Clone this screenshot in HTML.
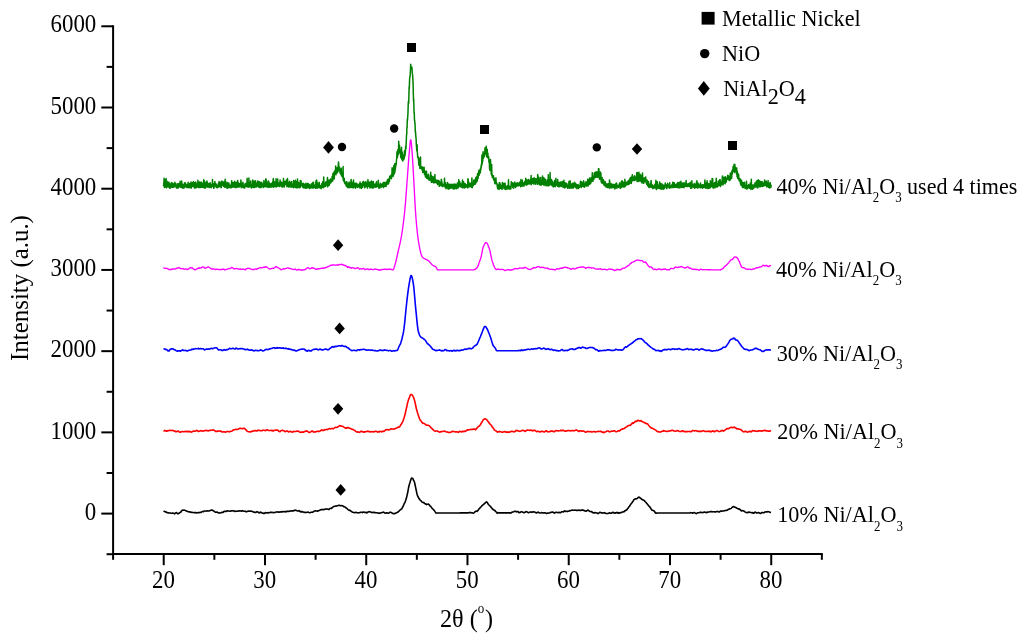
<!DOCTYPE html>
<html><head><meta charset="utf-8"><style>
html,body{margin:0;padding:0;background:#fff;width:1024px;height:638px;overflow:hidden;}
svg{display:block;will-change:transform;}
text{fill:#000;font-family:"Liberation Serif",serif;}
</style></head><body><svg width="1024" height="638" viewBox="0 0 1024 638"><line x1="113.1" y1="25.3" x2="113.1" y2="555.1" stroke="#000" stroke-width="2"/><line x1="112.1" y1="554.1" x2="822.8" y2="554.1" stroke="#000" stroke-width="2"/><line x1="106.6" y1="554.21" x2="113.1" y2="554.21" stroke="#000" stroke-width="2"/><line x1="101.3" y1="513.60" x2="113.1" y2="513.60" stroke="#000" stroke-width="2"/><line x1="106.6" y1="472.99" x2="113.1" y2="472.99" stroke="#000" stroke-width="2"/><line x1="101.3" y1="432.38" x2="113.1" y2="432.38" stroke="#000" stroke-width="2"/><line x1="106.6" y1="391.77" x2="113.1" y2="391.77" stroke="#000" stroke-width="2"/><line x1="101.3" y1="351.16" x2="113.1" y2="351.16" stroke="#000" stroke-width="2"/><line x1="106.6" y1="310.55" x2="113.1" y2="310.55" stroke="#000" stroke-width="2"/><line x1="101.3" y1="269.94" x2="113.1" y2="269.94" stroke="#000" stroke-width="2"/><line x1="106.6" y1="229.33" x2="113.1" y2="229.33" stroke="#000" stroke-width="2"/><line x1="101.3" y1="188.72" x2="113.1" y2="188.72" stroke="#000" stroke-width="2"/><line x1="106.6" y1="148.11" x2="113.1" y2="148.11" stroke="#000" stroke-width="2"/><line x1="101.3" y1="107.50" x2="113.1" y2="107.50" stroke="#000" stroke-width="2"/><line x1="106.6" y1="66.89" x2="113.1" y2="66.89" stroke="#000" stroke-width="2"/><line x1="101.3" y1="26.28" x2="113.1" y2="26.28" stroke="#000" stroke-width="2"/><line x1="113.10" y1="554.1" x2="113.10" y2="559.8" stroke="#000" stroke-width="2"/><line x1="163.72" y1="554.1" x2="163.72" y2="565.2" stroke="#000" stroke-width="2"/><line x1="214.35" y1="554.1" x2="214.35" y2="559.8" stroke="#000" stroke-width="2"/><line x1="264.98" y1="554.1" x2="264.98" y2="565.2" stroke="#000" stroke-width="2"/><line x1="315.60" y1="554.1" x2="315.60" y2="559.8" stroke="#000" stroke-width="2"/><line x1="366.23" y1="554.1" x2="366.23" y2="565.2" stroke="#000" stroke-width="2"/><line x1="416.85" y1="554.1" x2="416.85" y2="559.8" stroke="#000" stroke-width="2"/><line x1="467.48" y1="554.1" x2="467.48" y2="565.2" stroke="#000" stroke-width="2"/><line x1="518.10" y1="554.1" x2="518.10" y2="559.8" stroke="#000" stroke-width="2"/><line x1="568.73" y1="554.1" x2="568.73" y2="565.2" stroke="#000" stroke-width="2"/><line x1="619.35" y1="554.1" x2="619.35" y2="559.8" stroke="#000" stroke-width="2"/><line x1="669.98" y1="554.1" x2="669.98" y2="565.2" stroke="#000" stroke-width="2"/><line x1="720.60" y1="554.1" x2="720.60" y2="559.8" stroke="#000" stroke-width="2"/><line x1="771.23" y1="554.1" x2="771.23" y2="565.2" stroke="#000" stroke-width="2"/><line x1="821.85" y1="554.1" x2="821.85" y2="559.8" stroke="#000" stroke-width="2"/><polyline fill="none" stroke="#000" stroke-width="1.6" stroke-linejoin="round" points="163.50,511.13 164.00,511.40 164.50,511.37 165.00,511.71 165.50,511.86 166.00,511.91 166.50,512.43 167.00,512.50 167.50,512.63 168.00,512.87 168.50,512.99 169.00,512.91 169.50,512.93 170.00,512.93 170.50,513.02 171.00,513.22 171.50,513.26 172.00,513.25 172.50,513.15 173.00,513.17 173.50,513.20 174.00,513.59 174.50,513.83 175.00,513.36 175.50,513.09 176.00,512.84 176.50,512.59 177.00,513.10 177.50,513.47 178.00,513.82 178.50,513.52 179.00,513.13 179.50,513.09 180.00,512.42 180.50,512.31 181.00,511.88 181.50,510.87 182.00,510.50 182.50,510.22 183.00,510.05 183.50,510.23 184.00,510.23 184.50,510.10 185.00,510.37 185.50,510.60 186.00,510.72 186.50,510.91 187.00,511.16 187.50,511.43 188.00,511.62 188.50,511.71 189.00,511.88 189.50,511.78 190.00,512.03 190.50,512.12 191.00,512.29 191.50,512.50 192.00,512.25 192.50,512.49 193.00,512.43 193.50,512.56 194.00,512.67 194.50,512.57 195.00,512.62 195.50,512.49 196.00,512.68 196.50,512.98 197.00,512.62 197.50,512.69 198.00,512.80 198.50,512.55 199.00,512.62 199.50,512.62 200.00,512.35 200.50,512.46 201.00,512.44 201.50,511.94 202.00,511.77 202.50,511.42 203.00,511.50 203.50,511.68 204.00,511.30 204.50,511.06 205.00,510.97 205.50,510.95 206.00,511.02 206.50,511.13 207.00,510.97 207.50,510.85 208.00,511.04 208.50,511.02 209.00,510.87 209.50,510.70 210.00,510.70 210.50,510.24 211.00,510.22 211.50,510.29 212.00,509.92 212.50,510.48 213.00,510.52 213.50,510.82 214.00,511.22 214.50,511.47 215.00,512.00 215.50,512.12 216.00,512.19 216.50,512.00 217.00,512.28 217.50,512.36 218.00,512.54 218.50,512.95 219.00,512.70 219.50,512.91 220.00,513.04 220.50,512.98 221.00,512.80 221.50,512.61 222.00,512.28 222.50,512.23 223.00,512.44 223.50,511.91 224.00,511.48 224.50,511.31 225.00,511.33 225.50,511.30 226.00,511.42 226.50,511.36 227.00,510.76 227.50,510.85 228.00,511.01 228.50,511.00 229.00,511.07 229.50,511.21 230.00,511.24 230.50,511.00 231.00,511.01 231.50,510.80 232.00,510.83 232.50,510.78 233.00,510.65 233.50,511.07 234.00,511.06 234.50,511.24 235.00,511.53 235.50,511.20 236.00,511.17 236.50,511.25 237.00,511.21 237.50,511.08 238.00,511.27 238.50,511.09 239.00,510.85 239.50,510.90 240.00,510.69 240.50,511.07 241.00,511.05 241.50,511.24 242.00,510.93 242.50,510.65 243.00,511.01 243.50,510.94 244.00,511.21 244.50,511.25 245.00,511.21 245.50,511.37 246.00,511.82 246.50,511.82 247.00,511.59 247.50,511.46 248.00,511.10 248.50,511.09 249.00,511.20 249.50,511.28 250.00,511.03 250.50,511.20 251.00,511.15 251.50,510.97 252.00,511.43 252.50,511.58 253.00,511.84 253.50,512.15 254.00,511.95 254.50,512.30 255.00,512.44 255.50,512.30 256.00,512.40 256.50,512.00 257.00,511.65 257.50,511.96 258.00,512.09 258.50,512.36 259.00,512.87 259.50,512.43 260.00,512.58 260.50,512.14 261.00,512.21 261.50,512.76 262.00,512.88 262.50,513.01 263.00,513.15 263.50,513.48 264.00,513.20 264.50,513.45 265.00,513.01 265.50,512.64 266.00,512.60 266.50,512.85 267.00,512.79 267.50,512.73 268.00,513.03 268.50,512.57 269.00,512.68 269.50,512.62 270.00,512.49 270.50,512.38 271.00,512.32 271.50,512.36 272.00,512.30 272.50,512.49 273.00,512.49 273.50,512.63 274.00,512.60 274.50,512.54 275.00,512.45 275.50,512.19 276.00,512.00 276.50,512.08 277.00,511.97 277.50,511.90 278.00,512.15 278.50,512.10 279.00,512.20 279.50,511.94 280.00,511.92 280.50,511.86 281.00,511.65 281.50,512.10 282.00,511.88 282.50,511.60 283.00,511.83 283.50,511.63 284.00,511.75 284.50,511.62 285.00,511.86 285.50,511.73 286.00,511.37 286.50,511.70 287.00,511.26 287.50,511.35 288.00,511.50 288.50,511.31 289.00,511.35 289.50,511.10 290.00,511.21 290.50,511.08 291.00,510.83 291.50,510.92 292.00,510.83 292.50,510.83 293.00,510.79 293.50,510.85 294.00,510.44 294.50,510.28 295.00,510.43 295.50,510.08 296.00,510.41 296.50,510.61 297.00,510.81 297.50,510.94 298.00,510.90 298.50,511.04 299.00,510.54 299.50,511.34 300.00,511.43 300.50,511.35 301.00,512.03 301.50,511.59 302.00,511.51 302.50,511.86 303.00,511.96 303.50,511.99 304.00,512.35 304.50,512.41 305.00,512.18 305.50,512.40 306.00,512.55 306.50,512.39 307.00,512.33 307.50,512.23 308.00,512.04 308.50,512.31 309.00,512.54 309.50,512.66 310.00,512.77 310.50,512.55 311.00,512.30 311.50,512.17 312.00,512.34 312.50,512.12 313.00,512.03 313.50,511.75 314.00,511.22 314.50,511.02 315.00,511.01 315.50,510.86 316.00,511.07 316.50,511.07 317.00,510.99 317.50,511.10 318.00,510.71 318.50,510.87 319.00,510.63 319.50,510.25 320.00,510.17 320.50,509.83 321.00,509.63 321.50,509.71 322.00,509.42 322.50,509.63 323.00,509.80 323.50,509.63 324.00,509.71 324.50,509.33 325.00,509.24 325.50,509.11 326.00,509.03 326.50,508.99 327.00,508.86 327.50,509.12 328.00,509.38 328.50,509.32 329.00,509.38 329.50,508.84 330.00,508.57 330.50,508.37 331.00,508.16 331.50,508.44 332.00,507.70 332.50,507.51 333.00,506.99 333.50,506.59 334.00,506.54 334.50,506.20 335.00,506.25 335.50,506.10 336.00,506.22 336.50,506.05 337.00,505.80 337.50,505.73 338.00,505.60 338.50,505.35 339.00,505.51 339.50,505.37 340.00,505.49 340.50,505.72 341.00,505.75 341.50,505.59 342.00,505.67 342.50,505.82 343.00,506.00 343.50,506.58 344.00,506.59 344.50,506.91 345.00,507.05 345.50,507.35 346.00,507.95 346.50,508.13 347.00,508.62 347.50,508.96 348.00,509.63 348.50,509.94 349.00,510.11 349.50,510.56 350.00,510.30 350.50,510.74 351.00,511.25 351.50,511.48 352.00,511.81 352.50,512.25 353.00,512.25 353.50,512.41 354.00,512.59 354.50,512.73 355.00,512.61 355.50,512.36 356.00,512.39 356.50,512.46 357.00,512.75 357.50,512.68 358.00,512.84 358.50,512.80 359.00,512.69 359.50,512.79 360.00,512.64 360.50,512.20 361.00,512.25 361.50,512.32 362.00,512.18 362.50,512.59 363.00,512.29 363.50,512.13 364.00,512.17 364.50,512.36 365.00,512.29 365.50,512.45 366.00,512.67 366.50,512.36 367.00,512.82 367.50,512.52 368.00,511.94 368.50,511.99 369.00,511.56 369.50,511.67 370.00,511.86 370.50,511.92 371.00,512.29 371.50,512.24 372.00,512.63 372.50,512.50 373.00,512.36 373.50,512.53 374.00,512.38 374.50,512.51 375.00,512.64 375.50,512.61 376.00,512.87 376.50,512.69 377.00,512.73 377.50,512.90 378.00,513.01 378.50,513.06 379.00,513.33 379.50,513.30 380.00,513.01 380.50,512.98 381.00,512.77 381.50,512.74 382.00,512.57 382.50,512.47 383.00,512.26 383.50,512.11 384.00,512.47 384.50,512.89 385.00,513.12 385.50,513.27 386.00,512.99 386.50,512.73 387.00,512.72 387.50,513.01 388.00,513.23 388.50,513.16 389.00,513.00 389.50,512.54 390.00,512.24 390.50,512.27 391.00,512.33 391.50,512.78 392.00,512.99 392.50,513.33 393.00,513.68 393.50,513.44 394.00,513.77 394.50,513.70 395.00,513.34 395.50,513.37 396.00,513.03 396.50,512.73 397.00,512.57 397.50,512.29 398.00,512.05 398.50,511.58 399.00,511.22 399.50,510.50 400.00,510.01 400.50,509.79 401.00,509.32 401.50,509.11 402.00,508.49 402.50,507.41 403.00,506.36 403.50,505.31 404.00,504.21 404.50,503.18 405.00,502.41 405.50,500.90 406.00,499.35 406.50,497.83 407.00,495.58 407.50,493.52 408.00,490.79 408.50,488.03 409.00,485.77 409.50,483.90 410.00,482.47 410.50,480.72 411.00,479.26 411.50,478.07 412.00,478.06 412.50,478.49 413.00,478.78 413.50,480.35 414.00,481.01 414.50,482.19 415.00,484.46 415.50,486.83 416.00,489.24 416.50,491.64 417.00,494.01 417.50,495.62 418.00,496.77 418.50,497.53 419.00,498.59 419.50,499.07 420.00,499.80 420.50,500.42 421.00,500.73 421.50,501.39 422.00,502.00 422.50,502.15 423.00,502.45 423.50,502.76 424.00,502.60 424.50,503.30 425.00,503.78 425.50,503.81 426.00,504.36 426.50,504.58 427.00,504.15 427.50,504.18 428.00,504.19 428.50,504.12 429.00,504.56 429.50,505.33 430.00,505.95 430.50,506.19 431.00,506.77 431.50,507.40 432.00,507.99 432.50,508.83 433.00,509.22 433.50,509.69 434.00,510.08 434.50,510.87 435.00,511.66 435.50,512.39 436.00,513.15 436.50,513.07 437.00,513.00 437.50,513.00 438.00,513.00 438.50,513.00 439.00,513.00 439.50,513.00 440.00,513.00 440.50,513.00 441.00,513.00 441.50,513.00 442.00,513.00 442.50,513.00 443.00,513.00 443.50,512.99 444.00,512.99 444.50,512.99 445.00,512.99 445.50,512.99 446.00,512.99 446.50,512.99 447.00,512.99 447.50,512.99 448.00,512.98 448.50,512.98 449.00,512.98 449.50,512.98 450.00,512.98 450.50,512.98 451.00,512.97 451.50,512.97 452.00,512.97 452.50,512.97 453.00,512.97 453.50,512.96 454.00,512.96 454.50,512.96 455.00,512.96 455.50,512.95 456.00,512.95 456.50,512.95 457.00,512.94 457.50,512.94 458.00,512.94 458.50,512.94 459.00,512.93 459.50,512.93 460.00,512.92 460.50,512.92 461.00,512.92 461.50,512.91 462.00,512.91 462.50,512.90 463.00,512.90 463.50,512.90 464.00,512.89 464.50,512.89 465.00,512.88 465.50,512.88 466.00,512.87 466.50,512.87 467.00,512.86 467.50,512.86 468.00,512.85 468.50,512.64 469.00,512.88 469.50,512.70 470.00,512.32 470.50,512.69 471.00,512.62 471.50,512.95 472.00,513.01 472.50,512.89 473.00,513.18 473.50,513.13 474.00,512.84 474.50,512.46 475.00,511.77 475.50,511.42 476.00,511.08 476.50,511.30 477.00,511.38 477.50,510.84 478.00,510.42 478.50,509.82 479.00,508.76 479.50,508.33 480.00,508.13 480.50,507.19 481.00,506.89 481.50,506.33 482.00,505.68 482.50,505.27 483.00,504.85 483.50,504.48 484.00,503.89 484.50,503.66 485.00,503.15 485.50,502.59 486.00,502.20 486.50,501.82 487.00,502.11 487.50,502.94 488.00,503.78 488.50,504.54 489.00,505.08 489.50,505.46 490.00,506.00 490.50,506.61 491.00,507.09 491.50,507.62 492.00,508.43 492.50,508.71 493.00,509.47 493.50,509.70 494.00,509.99 494.50,510.59 495.00,510.55 495.50,511.23 496.00,511.79 496.50,512.19 497.00,512.98 497.50,513.13 498.00,512.58 498.50,512.73 499.00,512.85 499.50,512.85 500.00,512.85 500.50,512.85 501.00,512.85 501.50,512.85 502.00,512.85 502.50,512.85 503.00,512.85 503.50,512.85 504.00,512.85 504.50,512.85 505.00,512.85 505.50,512.85 506.00,512.85 506.50,512.85 507.00,512.85 507.50,512.85 508.00,512.85 508.50,512.85 509.00,512.85 509.50,512.85 510.00,512.85 510.50,513.15 511.00,512.92 511.50,512.48 512.00,512.20 512.50,511.96 513.00,511.93 513.50,512.00 514.00,511.60 514.50,511.28 515.00,511.21 515.50,511.30 516.00,511.75 516.50,511.88 517.00,511.51 517.50,511.77 518.00,511.64 518.50,512.06 519.00,512.73 519.50,512.42 520.00,512.52 520.50,512.25 521.00,511.78 521.50,511.78 522.00,511.89 522.50,511.96 523.00,512.34 523.50,512.60 524.00,512.55 524.50,512.65 525.00,512.35 525.50,511.90 526.00,511.88 526.50,511.54 527.00,511.86 527.50,512.19 528.00,512.54 528.50,512.72 529.00,512.62 529.50,512.37 530.00,511.97 530.50,512.07 531.00,512.08 531.50,512.01 532.00,512.33 532.50,511.97 533.00,511.91 533.50,512.02 534.00,511.84 534.50,511.98 535.00,512.20 535.50,512.43 536.00,512.75 536.50,512.99 537.00,512.62 537.50,512.48 538.00,512.10 538.50,512.20 539.00,512.69 539.50,512.86 540.00,513.01 540.50,512.92 541.00,512.80 541.50,512.54 542.00,512.73 542.50,512.87 543.00,512.79 543.50,513.01 544.00,513.04 544.50,512.89 545.00,512.85 545.50,513.07 546.00,513.07 546.50,513.51 547.00,513.47 547.50,513.01 548.00,513.12 548.50,512.98 549.00,513.00 549.50,513.04 550.00,512.84 550.50,512.34 551.00,512.38 551.50,512.23 552.00,512.16 552.50,512.06 553.00,512.05 553.50,512.66 554.00,512.61 554.50,513.08 555.00,512.96 555.50,512.50 556.00,512.24 556.50,512.24 557.00,512.30 557.50,512.69 558.00,512.70 558.50,512.43 559.00,512.41 559.50,512.32 560.00,512.80 560.50,512.68 561.00,512.41 561.50,511.81 562.00,511.68 562.50,511.73 563.00,511.77 563.50,512.01 564.00,511.27 564.50,510.91 565.00,511.11 565.50,511.11 566.00,511.49 566.50,511.53 567.00,511.37 567.50,511.52 568.00,511.18 568.50,511.26 569.00,510.98 569.50,510.63 570.00,510.76 570.50,510.64 571.00,510.47 571.50,510.32 572.00,510.14 572.50,510.07 573.00,510.16 573.50,510.22 574.00,510.19 574.50,510.13 575.00,510.31 575.50,510.15 576.00,510.21 576.50,510.42 577.00,510.29 577.50,510.35 578.00,510.44 578.50,510.09 579.00,510.13 579.50,510.36 580.00,510.44 580.50,510.41 581.00,510.40 581.50,510.03 582.00,509.91 582.50,510.23 583.00,510.00 583.50,510.42 584.00,510.47 584.50,510.62 585.00,510.97 585.50,511.00 586.00,511.25 586.50,510.89 587.00,510.82 587.50,510.24 588.00,510.00 588.50,510.44 589.00,510.67 589.50,511.36 590.00,511.47 590.50,511.52 591.00,511.51 591.50,511.64 592.00,512.12 592.50,512.15 593.00,512.94 593.50,512.86 594.00,512.65 594.50,512.95 595.00,512.55 595.50,512.76 596.00,512.81 596.50,513.05 597.00,512.99 597.50,513.22 598.00,513.61 598.50,513.14 599.00,512.96 599.50,512.53 600.00,512.33 600.50,512.57 601.00,512.80 601.50,512.84 602.00,512.88 602.50,513.12 603.00,512.84 603.50,512.96 604.00,512.93 604.50,512.67 605.00,512.87 605.50,513.22 606.00,513.41 606.50,513.58 607.00,513.49 607.50,513.58 608.00,513.42 608.50,513.17 609.00,513.25 609.50,512.78 610.00,513.09 610.50,513.23 611.00,513.30 611.50,513.01 612.00,512.77 612.50,512.55 613.00,512.35 613.50,512.83 614.00,512.55 614.50,512.89 615.00,513.28 615.50,512.86 616.00,512.99 616.50,512.57 617.00,512.37 617.50,512.84 618.00,512.62 618.50,513.22 619.00,513.17 619.50,512.81 620.00,513.01 620.50,512.77 621.00,512.47 621.50,512.51 622.00,512.10 622.50,511.95 623.00,511.98 623.50,511.66 624.00,511.83 624.50,511.12 625.00,510.70 625.50,510.72 626.00,510.10 626.50,510.11 627.00,509.73 627.50,508.77 628.00,508.22 628.50,507.45 629.00,506.78 629.50,506.19 630.00,505.53 630.50,504.60 631.00,503.94 631.50,503.34 632.00,502.77 632.50,501.89 633.00,501.23 633.50,500.46 634.00,499.49 634.50,499.39 635.00,499.05 635.50,498.81 636.00,498.87 636.50,498.73 637.00,498.50 637.50,498.22 638.00,497.59 638.50,497.24 639.00,497.17 639.50,497.20 640.00,497.85 640.50,498.35 641.00,498.57 641.50,499.30 642.00,499.35 642.50,499.74 643.00,500.03 643.50,499.94 644.00,500.59 644.50,500.75 645.00,501.50 645.50,501.99 646.00,502.50 646.50,503.10 647.00,503.56 647.50,504.36 648.00,504.80 648.50,505.68 649.00,506.09 649.50,506.52 650.00,507.39 650.50,507.95 651.00,508.79 651.50,509.51 652.00,510.23 652.50,510.31 653.00,510.50 653.50,510.68 654.00,510.83 654.50,511.50 655.00,512.25 655.50,513.00 656.00,513.13 656.50,513.13 657.00,513.00 657.50,513.00 658.00,513.00 658.50,513.00 659.00,513.00 659.50,513.00 660.00,513.00 660.50,513.00 661.00,513.00 661.50,513.00 662.00,513.00 662.50,513.00 663.00,513.00 663.50,513.00 664.00,513.00 664.50,513.00 665.00,513.00 665.50,513.00 666.00,513.00 666.50,513.00 667.00,513.00 667.50,513.00 668.00,513.00 668.50,513.00 669.00,513.00 669.50,513.00 670.00,513.00 670.50,513.00 671.00,513.00 671.50,513.00 672.00,513.00 672.50,513.00 673.00,513.00 673.50,513.00 674.00,513.00 674.50,513.00 675.00,513.00 675.50,513.00 676.00,513.00 676.50,513.00 677.00,513.00 677.50,513.00 678.00,513.00 678.50,513.00 679.00,513.00 679.50,513.00 680.00,513.00 680.50,513.00 681.00,513.00 681.50,513.00 682.00,513.00 682.50,513.00 683.00,513.00 683.50,513.00 684.00,513.00 684.50,513.00 685.00,513.00 685.50,513.00 686.00,513.00 686.50,513.00 687.00,513.00 687.50,513.00 688.00,513.00 688.50,513.00 689.00,513.00 689.50,513.00 690.00,513.00 690.50,512.65 691.00,512.70 691.50,512.82 692.00,512.70 692.50,513.14 693.00,512.96 693.50,512.95 694.00,512.62 694.50,512.54 695.00,513.02 695.50,513.16 696.00,513.50 696.50,513.59 697.00,513.22 697.50,512.77 698.00,512.86 698.50,512.68 699.00,512.73 699.50,512.54 700.00,512.33 700.50,512.41 701.00,512.27 701.50,512.40 702.00,512.62 702.50,512.52 703.00,512.58 703.50,512.44 704.00,512.03 704.50,511.93 705.00,512.19 705.50,512.25 706.00,512.65 706.50,512.50 707.00,512.17 707.50,512.40 708.00,512.01 708.50,512.00 709.00,512.01 709.50,511.91 710.00,511.62 710.50,511.69 711.00,511.66 711.50,511.47 712.00,511.87 712.50,511.78 713.00,511.70 713.50,511.74 714.00,511.70 714.50,511.72 715.00,512.01 715.50,511.80 716.00,511.86 716.50,511.70 717.00,511.37 717.50,511.54 718.00,511.63 718.50,511.89 719.00,511.80 719.50,511.91 720.00,511.47 720.50,511.12 721.00,511.21 721.50,510.94 722.00,511.08 722.50,511.06 723.00,510.97 723.50,510.99 724.00,510.80 724.50,510.80 725.00,510.52 725.50,510.48 726.00,510.35 726.50,510.33 727.00,510.28 727.50,510.00 728.00,509.61 728.50,509.30 729.00,509.22 729.50,508.92 730.00,508.93 730.50,508.64 731.00,508.42 731.50,508.07 732.00,507.37 732.50,507.17 733.00,506.73 733.50,506.51 734.00,506.90 734.50,506.93 735.00,507.17 735.50,507.47 736.00,507.61 736.50,507.86 737.00,508.37 737.50,508.58 738.00,508.82 738.50,509.11 739.00,508.80 739.50,509.01 740.00,509.78 740.50,509.80 741.00,510.56 741.50,510.99 742.00,510.68 742.50,510.77 743.00,510.63 743.50,511.02 744.00,511.01 744.50,511.56 745.00,511.86 745.50,512.16 746.00,512.39 746.50,512.58 747.00,512.74 747.50,512.40 748.00,512.25 748.50,512.34 749.00,511.99 749.50,512.01 750.00,512.49 750.50,512.46 751.00,512.59 751.50,512.70 752.00,512.54 752.50,512.58 753.00,513.20 753.50,512.92 754.00,513.16 754.50,512.48 755.00,512.08 755.50,512.24 756.00,512.45 756.50,513.01 757.00,512.90 757.50,513.03 758.00,512.61 758.50,512.63 759.00,512.75 759.50,512.97 760.00,513.36 760.50,513.46 761.00,513.28 761.50,512.89 762.00,512.49 762.50,512.55 763.00,512.68 763.50,512.78 764.00,512.83 764.50,512.27 765.00,511.99 765.50,512.04 766.00,511.82 766.50,511.86 767.00,512.01 767.50,511.75 768.00,511.65 768.50,511.69 769.00,511.84 769.50,512.11 770.00,512.22 770.50,512.49 771.00,512.59"/><polyline fill="none" stroke="#ff0000" stroke-width="1.6" stroke-linejoin="round" points="163.50,431.21 164.00,430.99 164.50,430.43 165.00,430.62 165.50,430.84 166.00,430.79 166.50,431.29 167.00,430.98 167.50,430.64 168.00,430.84 168.50,430.63 169.00,430.50 169.50,430.44 170.00,430.34 170.50,430.37 171.00,430.52 171.50,430.55 172.00,430.49 172.50,430.36 173.00,430.46 173.50,430.70 174.00,430.87 174.50,431.26 175.00,431.10 175.50,431.37 176.00,431.83 176.50,431.60 177.00,431.56 177.50,431.21 178.00,430.99 178.50,431.30 179.00,431.79 179.50,432.17 180.00,432.06 180.50,432.08 181.00,431.85 181.50,431.87 182.00,431.62 182.50,431.49 183.00,431.55 183.50,431.70 184.00,431.75 184.50,431.62 185.00,431.46 185.50,431.30 186.00,431.38 186.50,431.78 187.00,431.53 187.50,431.54 188.00,431.75 188.50,431.25 189.00,431.59 189.50,431.58 190.00,431.40 190.50,431.80 191.00,432.17 191.50,431.99 192.00,431.90 192.50,431.58 193.00,431.25 193.50,431.15 194.00,431.15 194.50,431.25 195.00,431.24 195.50,431.07 196.00,430.81 196.50,430.39 197.00,430.46 197.50,430.64 198.00,431.15 198.50,431.55 199.00,431.18 199.50,431.23 200.00,430.93 200.50,430.68 201.00,430.63 201.50,430.83 202.00,430.88 202.50,431.14 203.00,431.22 203.50,430.77 204.00,430.83 204.50,430.72 205.00,430.61 205.50,430.68 206.00,430.34 206.50,430.37 207.00,430.68 207.50,430.54 208.00,430.93 208.50,430.76 209.00,430.57 209.50,430.56 210.00,430.26 210.50,430.37 211.00,430.26 211.50,430.28 212.00,430.19 212.50,430.04 213.00,429.84 213.50,429.93 214.00,430.14 214.50,430.48 215.00,430.90 215.50,431.43 216.00,431.47 216.50,431.29 217.00,431.57 217.50,431.02 218.00,431.21 218.50,431.20 219.00,431.01 219.50,430.93 220.00,431.00 220.50,431.22 221.00,431.06 221.50,431.78 222.00,431.83 222.50,431.93 223.00,432.04 223.50,431.80 224.00,431.69 224.50,431.85 225.00,432.16 225.50,432.09 226.00,432.04 226.50,431.83 227.00,431.45 227.50,431.43 228.00,431.44 228.50,431.55 229.00,431.89 229.50,431.71 230.00,431.66 230.50,431.29 231.00,431.24 231.50,431.19 232.00,431.00 232.50,430.75 233.00,430.08 233.50,429.99 234.00,429.72 234.50,429.82 235.00,429.57 235.50,429.52 236.00,429.30 236.50,429.41 237.00,429.50 237.50,429.45 238.00,429.25 238.50,428.90 239.00,428.69 239.50,428.31 240.00,428.47 240.50,428.27 241.00,428.40 241.50,428.57 242.00,428.65 242.50,428.68 243.00,428.42 243.50,428.28 244.00,428.34 244.50,428.25 245.00,428.94 245.50,429.39 246.00,429.75 246.50,430.66 247.00,431.01 247.50,431.42 248.00,431.58 248.50,431.70 249.00,431.81 249.50,431.68 250.00,432.03 250.50,432.02 251.00,431.54 251.50,431.61 252.00,431.09 252.50,431.06 253.00,431.41 253.50,431.05 254.00,430.97 254.50,430.66 255.00,430.35 255.50,430.71 256.00,430.92 256.50,430.81 257.00,430.94 257.50,430.31 258.00,430.22 258.50,430.41 259.00,430.27 259.50,430.49 260.00,430.52 260.50,430.70 261.00,430.76 261.50,430.68 262.00,430.83 262.50,430.15 263.00,430.19 263.50,430.28 264.00,430.18 264.50,430.36 265.00,430.50 265.50,430.64 266.00,430.17 266.50,429.97 267.00,429.68 267.50,429.85 268.00,430.17 268.50,430.52 269.00,430.54 269.50,430.43 270.00,430.48 270.50,430.51 271.00,430.38 271.50,430.46 272.00,430.63 272.50,430.35 273.00,430.92 273.50,430.84 274.00,430.52 274.50,430.41 275.00,430.13 275.50,430.12 276.00,430.12 276.50,430.16 277.00,430.28 277.50,430.12 278.00,430.18 278.50,431.04 279.00,431.27 279.50,431.59 280.00,431.66 280.50,431.33 281.00,430.63 281.50,430.54 282.00,430.56 282.50,430.29 283.00,430.48 283.50,430.62 284.00,430.84 284.50,431.16 285.00,431.65 285.50,431.47 286.00,431.30 286.50,431.02 287.00,430.87 287.50,431.20 288.00,431.44 288.50,431.91 289.00,431.80 289.50,431.62 290.00,431.54 290.50,431.23 291.00,431.78 291.50,432.02 292.00,432.02 292.50,432.11 293.00,431.77 293.50,431.37 294.00,431.58 294.50,431.49 295.00,431.43 295.50,431.51 296.00,431.35 296.50,431.34 297.00,431.13 297.50,431.14 298.00,431.10 298.50,431.29 299.00,431.57 299.50,432.01 300.00,432.27 300.50,432.28 301.00,432.39 301.50,432.00 302.00,432.12 302.50,432.26 303.00,431.89 303.50,432.14 304.00,432.03 304.50,431.47 305.00,431.57 305.50,431.36 306.00,430.88 306.50,431.16 307.00,431.12 307.50,431.28 308.00,431.66 308.50,432.29 309.00,432.37 309.50,432.47 310.00,432.41 310.50,431.97 311.00,431.81 311.50,431.25 312.00,431.07 312.50,431.12 313.00,431.57 313.50,431.97 314.00,432.16 314.50,431.84 315.00,431.79 315.50,431.88 316.00,431.66 316.50,431.75 317.00,431.27 317.50,431.24 318.00,431.36 318.50,431.31 319.00,431.50 319.50,431.25 320.00,431.03 320.50,430.75 321.00,430.36 321.50,429.89 322.00,429.94 322.50,430.44 323.00,430.25 323.50,430.47 324.00,430.34 324.50,429.66 325.00,429.88 325.50,429.54 326.00,429.57 326.50,429.52 327.00,429.39 327.50,429.59 328.00,429.20 328.50,428.89 329.00,428.68 329.50,428.61 330.00,428.58 330.50,428.85 331.00,428.68 331.50,428.49 332.00,428.54 332.50,428.42 333.00,428.84 333.50,428.67 334.00,428.25 334.50,427.81 335.00,427.49 335.50,427.29 336.00,427.40 336.50,427.49 337.00,427.30 337.50,427.25 338.00,426.74 338.50,426.46 339.00,426.16 339.50,425.55 340.00,425.74 340.50,425.85 341.00,425.85 341.50,426.22 342.00,426.32 342.50,426.29 343.00,426.53 343.50,426.86 344.00,427.16 344.50,427.50 345.00,427.68 345.50,428.10 346.00,427.96 346.50,428.29 347.00,427.97 347.50,427.45 348.00,427.72 348.50,427.62 349.00,428.11 349.50,428.26 350.00,428.35 350.50,428.46 351.00,428.70 351.50,429.09 352.00,429.35 352.50,429.39 353.00,429.42 353.50,429.69 354.00,430.06 354.50,430.40 355.00,430.61 355.50,431.08 356.00,431.49 356.50,431.88 357.00,432.14 357.50,432.00 358.00,431.90 358.50,431.94 359.00,432.21 359.50,432.35 360.00,432.01 360.50,431.83 361.00,431.37 361.50,431.10 362.00,431.50 362.50,431.76 363.00,431.73 363.50,432.27 364.00,432.10 364.50,431.80 365.00,432.09 365.50,431.78 366.00,431.61 366.50,431.44 367.00,431.39 367.50,431.46 368.00,431.14 368.50,431.59 369.00,431.69 369.50,431.56 370.00,432.04 370.50,431.89 371.00,431.64 371.50,431.66 372.00,431.88 372.50,431.67 373.00,431.86 373.50,431.95 374.00,431.58 374.50,431.74 375.00,431.44 375.50,431.23 376.00,431.33 376.50,431.43 377.00,431.48 377.50,432.13 378.00,431.98 378.50,431.90 379.00,431.97 379.50,431.31 380.00,431.58 380.50,431.41 381.00,431.62 381.50,431.83 382.00,431.35 382.50,431.54 383.00,431.12 383.50,431.33 384.00,431.37 384.50,430.94 385.00,430.64 385.50,429.85 386.00,429.73 386.50,429.64 387.00,429.67 387.50,429.69 388.00,429.67 388.50,430.01 389.00,429.83 389.50,429.77 390.00,429.55 390.50,428.94 391.00,428.92 391.50,428.76 392.00,428.94 392.50,429.06 393.00,429.07 393.50,429.20 394.00,428.98 394.50,428.83 395.00,428.82 395.50,428.40 396.00,428.26 396.50,428.18 397.00,427.82 397.50,427.50 398.00,427.37 398.50,426.96 399.00,427.16 399.50,426.79 400.00,426.16 400.50,425.49 401.00,424.36 401.50,423.92 402.00,422.87 402.50,422.10 403.00,421.08 403.50,419.55 404.00,418.08 404.50,416.35 405.00,414.43 405.50,412.41 406.00,410.28 406.50,407.96 407.00,405.56 407.50,403.27 408.00,401.41 408.50,399.79 409.00,398.33 409.50,397.21 410.00,395.75 410.50,394.77 411.00,394.51 411.50,394.59 412.00,394.77 412.50,395.44 413.00,396.44 413.50,397.35 414.00,398.72 414.50,400.24 415.00,402.36 415.50,404.52 416.00,407.02 416.50,409.30 417.00,410.75 417.50,412.71 418.00,414.31 418.50,415.78 419.00,417.23 419.50,418.64 420.00,419.68 420.50,420.38 421.00,420.99 421.50,421.70 422.00,422.38 422.50,422.90 423.00,423.37 423.50,423.14 424.00,423.39 424.50,423.77 425.00,423.92 425.50,424.66 426.00,424.98 426.50,424.97 427.00,425.29 427.50,425.18 428.00,425.23 428.50,425.54 429.00,425.53 429.50,426.08 430.00,426.36 430.50,426.94 431.00,427.89 431.50,428.11 432.00,428.67 432.50,429.17 433.00,429.67 433.50,430.24 434.00,430.60 434.50,430.92 435.00,431.00 435.50,431.17 436.00,431.01 436.50,431.04 437.00,431.01 437.50,431.03 438.00,431.38 438.50,431.44 439.00,431.96 439.50,432.11 440.00,431.88 440.50,431.86 441.00,431.43 441.50,431.48 442.00,431.62 442.50,431.48 443.00,431.50 443.50,431.33 444.00,431.14 444.50,431.16 445.00,431.25 445.50,431.58 446.00,431.85 446.50,431.91 447.00,432.02 447.50,431.91 448.00,432.25 448.50,432.42 449.00,432.32 449.50,432.47 450.00,432.46 450.50,432.28 451.00,432.31 451.50,431.79 452.00,431.46 452.50,431.39 453.00,431.33 453.50,431.54 454.00,431.58 454.50,431.72 455.00,431.84 455.50,431.97 456.00,431.90 456.50,431.70 457.00,431.83 457.50,432.04 458.00,432.06 458.50,432.38 459.00,431.90 459.50,431.38 460.00,431.41 460.50,431.57 461.00,431.64 461.50,431.73 462.00,431.98 462.50,431.30 463.00,431.48 463.50,431.58 464.00,431.11 464.50,431.32 465.00,431.51 465.50,431.07 466.00,430.89 466.50,430.67 467.00,429.95 467.50,429.79 468.00,430.02 468.50,430.01 469.00,429.74 469.50,429.77 470.00,429.48 470.50,429.44 471.00,429.42 471.50,429.45 472.00,429.35 472.50,429.26 473.00,429.48 473.50,429.08 474.00,429.23 474.50,429.07 475.00,429.16 475.50,429.78 476.00,429.19 476.50,428.66 477.00,428.19 477.50,427.32 478.00,426.90 478.50,426.54 479.00,426.27 479.50,425.80 480.00,425.19 480.50,424.74 481.00,423.51 481.50,422.76 482.00,422.01 482.50,420.98 483.00,420.41 483.50,419.51 484.00,419.11 484.50,419.14 485.00,418.88 485.50,419.00 486.00,419.18 486.50,419.52 487.00,420.10 487.50,420.84 488.00,421.45 488.50,422.04 489.00,422.86 489.50,423.40 490.00,423.97 490.50,424.51 491.00,424.87 491.50,425.66 492.00,426.51 492.50,427.19 493.00,427.89 493.50,428.39 494.00,429.22 494.50,429.93 495.00,430.31 495.50,430.66 496.00,430.93 496.50,431.26 497.00,431.68 497.50,432.22 498.00,431.80 498.50,431.67 499.00,431.88 499.50,431.42 500.00,431.57 500.50,431.70 501.00,431.77 501.50,431.99 502.00,432.17 502.50,432.31 503.00,432.04 503.50,431.91 504.00,431.84 504.50,431.48 505.00,431.77 505.50,432.02 506.00,431.88 506.50,432.36 507.00,432.03 507.50,432.07 508.00,432.32 508.50,432.02 509.00,432.13 509.50,432.13 510.00,431.99 510.50,431.59 511.00,431.51 511.50,431.35 512.00,431.31 512.50,431.55 513.00,431.45 513.50,431.67 514.00,431.94 514.50,431.48 515.00,431.54 515.50,431.13 516.00,430.34 516.50,430.74 517.00,430.57 517.50,430.57 518.00,430.85 518.50,430.91 519.00,431.18 519.50,431.23 520.00,431.41 520.50,431.15 521.00,430.91 521.50,430.68 522.00,430.52 522.50,430.38 523.00,430.39 523.50,430.63 524.00,430.66 524.50,430.98 525.00,431.38 525.50,430.86 526.00,430.82 526.50,430.52 527.00,429.98 527.50,430.13 528.00,430.15 528.50,430.23 529.00,430.22 529.50,430.45 530.00,430.36 530.50,430.03 531.00,430.36 531.50,430.39 532.00,430.36 532.50,430.86 533.00,430.60 533.50,430.31 534.00,430.67 534.50,430.36 535.00,430.47 535.50,430.91 536.00,431.03 536.50,431.57 537.00,431.67 537.50,431.55 538.00,431.27 538.50,431.28 539.00,431.59 539.50,431.85 540.00,431.83 540.50,431.84 541.00,431.47 541.50,431.32 542.00,431.39 542.50,431.32 543.00,431.43 543.50,431.67 544.00,431.95 544.50,431.93 545.00,431.47 545.50,430.99 546.00,430.79 546.50,430.68 547.00,431.46 547.50,431.74 548.00,431.68 548.50,431.84 549.00,431.64 549.50,431.59 550.00,431.69 550.50,431.31 551.00,430.95 551.50,431.19 552.00,430.85 552.50,431.19 553.00,431.46 553.50,431.37 554.00,431.76 554.50,431.68 555.00,431.17 555.50,430.85 556.00,430.56 556.50,430.61 557.00,430.77 557.50,430.81 558.00,430.84 558.50,430.89 559.00,430.83 559.50,430.70 560.00,430.86 560.50,430.24 561.00,430.54 561.50,430.68 562.00,430.28 562.50,430.57 563.00,430.32 563.50,430.41 564.00,430.73 564.50,431.04 565.00,431.20 565.50,431.17 566.00,430.99 566.50,430.70 567.00,430.87 567.50,430.50 568.00,430.69 568.50,430.58 569.00,430.40 569.50,430.77 570.00,430.79 570.50,430.91 571.00,430.81 571.50,430.79 572.00,430.63 572.50,430.54 573.00,430.63 573.50,430.71 574.00,430.72 574.50,430.78 575.00,430.51 575.50,430.32 576.00,429.97 576.50,430.06 577.00,430.12 577.50,430.36 578.00,431.21 578.50,431.03 579.00,431.47 579.50,431.36 580.00,430.81 580.50,430.81 581.00,430.77 581.50,431.04 582.00,431.30 582.50,431.28 583.00,431.10 583.50,430.91 584.00,431.18 584.50,431.58 585.00,431.89 585.50,432.20 586.00,431.96 586.50,431.92 587.00,431.83 587.50,431.31 588.00,431.42 588.50,431.51 589.00,431.71 589.50,431.81 590.00,431.59 590.50,431.68 591.00,431.56 591.50,432.01 592.00,432.00 592.50,431.87 593.00,431.69 593.50,431.50 594.00,431.57 594.50,431.62 595.00,431.93 595.50,431.99 596.00,431.75 596.50,431.82 597.00,431.71 597.50,431.40 598.00,431.56 598.50,431.39 599.00,431.41 599.50,431.51 600.00,431.37 600.50,431.41 601.00,431.34 601.50,431.84 602.00,431.89 602.50,432.28 603.00,432.54 603.50,432.16 604.00,432.67 604.50,432.24 605.00,432.10 605.50,431.91 606.00,431.62 606.50,431.42 607.00,430.96 607.50,431.04 608.00,430.90 608.50,431.16 609.00,431.65 609.50,431.66 610.00,431.77 610.50,431.70 611.00,431.17 611.50,431.23 612.00,431.21 612.50,431.16 613.00,431.25 613.50,430.83 614.00,430.75 614.50,430.75 615.00,431.11 615.50,431.57 616.00,431.76 616.50,431.66 617.00,431.51 617.50,431.14 618.00,430.86 618.50,430.81 619.00,430.92 619.50,430.84 620.00,430.35 620.50,430.26 621.00,429.49 621.50,429.27 622.00,429.27 622.50,428.69 623.00,428.86 623.50,428.76 624.00,428.47 624.50,428.39 625.00,427.82 625.50,427.55 626.00,427.31 626.50,426.88 627.00,426.55 627.50,426.07 628.00,425.90 628.50,425.58 629.00,425.39 629.50,425.25 630.00,425.33 630.50,425.37 631.00,424.59 631.50,424.12 632.00,423.32 632.50,422.89 633.00,423.33 633.50,423.20 634.00,422.51 634.50,422.17 635.00,421.59 635.50,421.23 636.00,421.59 636.50,421.11 637.00,421.09 637.50,420.58 638.00,420.25 638.50,420.48 639.00,420.71 639.50,420.94 640.00,420.73 640.50,420.92 641.00,420.56 641.50,421.14 642.00,421.52 642.50,421.46 643.00,422.02 643.50,422.00 644.00,422.53 644.50,422.67 645.00,422.97 645.50,423.12 646.00,423.39 646.50,423.79 647.00,423.58 647.50,424.00 648.00,424.27 648.50,425.11 649.00,425.83 649.50,426.39 650.00,426.86 650.50,427.51 651.00,427.67 651.50,428.11 652.00,428.29 652.50,428.15 653.00,428.58 653.50,428.95 654.00,429.16 654.50,429.28 655.00,429.72 655.50,429.69 656.00,430.37 656.50,431.07 657.00,431.25 657.50,431.81 658.00,431.73 658.50,431.66 659.00,431.81 659.50,432.00 660.00,432.10 660.50,431.92 661.00,431.72 661.50,431.56 662.00,431.22 662.50,431.24 663.00,431.28 663.50,430.58 664.00,430.73 664.50,430.93 665.00,430.98 665.50,431.20 666.00,431.35 666.50,431.22 667.00,431.49 667.50,431.48 668.00,431.27 668.50,431.17 669.00,430.78 669.50,430.93 670.00,430.98 670.50,430.86 671.00,430.60 671.50,430.49 672.00,430.28 672.50,430.22 673.00,430.41 673.50,430.61 674.00,431.01 674.50,431.02 675.00,431.18 675.50,431.24 676.00,431.09 676.50,430.99 677.00,430.57 677.50,430.58 678.00,430.76 678.50,431.11 679.00,431.31 679.50,431.44 680.00,431.50 680.50,431.45 681.00,431.61 681.50,431.02 682.00,430.95 682.50,430.69 683.00,430.86 683.50,431.33 684.00,431.23 684.50,431.79 685.00,431.62 685.50,431.61 686.00,431.73 686.50,431.51 687.00,431.49 687.50,431.61 688.00,431.54 688.50,431.46 689.00,431.51 689.50,431.32 690.00,431.64 690.50,431.69 691.00,431.68 691.50,431.47 692.00,430.86 692.50,430.51 693.00,430.59 693.50,430.78 694.00,430.82 694.50,430.89 695.00,430.79 695.50,430.69 696.00,430.64 696.50,430.95 697.00,431.03 697.50,431.12 698.00,431.48 698.50,431.32 699.00,431.53 699.50,431.36 700.00,431.32 700.50,431.54 701.00,431.26 701.50,431.50 702.00,431.18 702.50,430.81 703.00,430.82 703.50,430.63 704.00,430.96 704.50,431.22 705.00,431.37 705.50,431.55 706.00,431.48 706.50,431.49 707.00,431.32 707.50,431.18 708.00,431.50 708.50,431.18 709.00,431.21 709.50,431.47 710.00,431.19 710.50,431.74 711.00,431.87 711.50,431.47 712.00,431.34 712.50,430.85 713.00,430.92 713.50,431.40 714.00,431.38 714.50,431.72 715.00,431.47 715.50,430.96 716.00,430.95 716.50,430.57 717.00,430.53 717.50,430.81 718.00,431.01 718.50,431.50 719.00,431.52 719.50,431.51 720.00,431.44 720.50,431.29 721.00,430.83 721.50,430.62 722.00,430.66 722.50,430.34 723.00,430.86 723.50,431.11 724.00,430.55 724.50,430.49 725.00,430.18 725.50,429.66 726.00,429.34 726.50,429.07 727.00,428.63 727.50,428.57 728.00,428.76 728.50,428.45 729.00,428.43 729.50,428.02 730.00,427.69 730.50,427.39 731.00,427.21 731.50,427.37 732.00,427.43 732.50,427.64 733.00,427.53 733.50,427.27 734.00,427.37 734.50,427.15 735.00,427.69 735.50,427.86 736.00,428.23 736.50,428.84 737.00,428.56 737.50,428.87 738.00,428.72 738.50,428.77 739.00,429.16 739.50,429.19 740.00,429.36 740.50,429.58 741.00,429.61 741.50,430.06 742.00,430.60 742.50,431.05 743.00,431.59 743.50,431.73 744.00,431.87 744.50,431.46 745.00,431.35 745.50,431.36 746.00,431.37 746.50,431.83 747.00,432.03 747.50,432.08 748.00,432.07 748.50,431.76 749.00,431.62 749.50,431.23 750.00,431.34 750.50,431.77 751.00,431.63 751.50,431.83 752.00,431.14 752.50,430.57 753.00,430.67 753.50,430.77 754.00,430.86 754.50,431.01 755.00,430.85 755.50,430.93 756.00,431.29 756.50,431.32 757.00,431.43 757.50,431.32 758.00,430.81 758.50,430.85 759.00,430.79 759.50,430.90 760.00,430.91 760.50,430.99 761.00,430.86 761.50,430.74 762.00,431.24 762.50,430.81 763.00,430.66 763.50,430.75 764.00,430.30 764.50,430.36 765.00,430.65 765.50,430.40 766.00,430.70 766.50,430.88 767.00,430.73 767.50,430.89 768.00,431.10 768.50,430.98 769.00,431.20 769.50,431.18 770.00,430.77 770.50,430.83 771.00,430.60"/><polyline fill="none" stroke="#0000ff" stroke-width="1.6" stroke-linejoin="round" points="163.50,348.82 164.00,349.01 164.50,348.96 165.00,348.87 165.50,349.57 166.00,349.38 166.50,349.63 167.00,349.71 167.50,350.43 168.00,350.89 168.50,350.90 169.00,350.99 169.50,350.12 170.00,349.60 170.50,349.22 171.00,348.97 171.50,348.73 172.00,348.88 172.50,348.88 173.00,348.90 173.50,349.38 174.00,349.54 174.50,349.77 175.00,350.03 175.50,350.14 176.00,350.65 176.50,350.92 177.00,351.07 177.50,351.22 178.00,350.73 178.50,350.72 179.00,350.91 179.50,350.83 180.00,350.99 180.50,351.15 181.00,350.48 181.50,350.54 182.00,350.34 182.50,349.91 183.00,350.43 183.50,350.35 184.00,350.42 184.50,350.50 185.00,350.43 185.50,350.28 186.00,350.57 186.50,350.87 187.00,350.86 187.50,351.03 188.00,350.69 188.50,350.34 189.00,350.35 189.50,350.18 190.00,350.11 190.50,350.05 191.00,349.91 191.50,349.28 192.00,349.35 192.50,349.48 193.00,349.07 193.50,349.42 194.00,349.04 194.50,349.00 195.00,348.85 195.50,348.60 196.00,348.81 196.50,348.81 197.00,348.72 197.50,348.74 198.00,348.62 198.50,348.26 199.00,348.89 199.50,348.74 200.00,348.73 200.50,348.65 201.00,348.63 201.50,348.87 202.00,348.78 202.50,348.72 203.00,348.84 203.50,349.04 204.00,349.31 204.50,349.89 205.00,349.72 205.50,349.54 206.00,349.33 206.50,349.03 207.00,349.24 207.50,349.10 208.00,349.12 208.50,349.17 209.00,348.90 209.50,349.16 210.00,348.94 210.50,348.58 211.00,348.41 211.50,348.39 212.00,348.60 212.50,348.80 213.00,348.62 213.50,348.33 214.00,348.05 214.50,348.06 215.00,347.90 215.50,347.81 216.00,347.81 216.50,347.79 217.00,348.10 217.50,348.77 218.00,349.37 218.50,349.89 219.00,349.88 219.50,349.74 220.00,349.71 220.50,349.82 221.00,349.96 221.50,350.29 222.00,350.57 222.50,350.19 223.00,350.34 223.50,349.88 224.00,349.58 224.50,349.77 225.00,350.14 225.50,350.08 226.00,350.04 226.50,349.78 227.00,349.57 227.50,349.58 228.00,349.54 228.50,349.21 229.00,348.77 229.50,348.42 230.00,348.41 230.50,348.70 231.00,348.69 231.50,348.75 232.00,348.58 232.50,348.35 233.00,348.25 233.50,348.43 234.00,348.79 234.50,348.89 235.00,348.97 235.50,348.70 236.00,348.06 236.50,348.22 237.00,348.49 237.50,348.72 238.00,349.04 238.50,349.00 239.00,348.90 239.50,348.66 240.00,348.56 240.50,348.59 241.00,348.46 241.50,348.68 242.00,348.65 242.50,348.60 243.00,348.93 243.50,348.97 244.00,349.12 244.50,349.36 245.00,349.36 245.50,349.76 246.00,349.46 246.50,349.50 247.00,349.34 247.50,349.10 248.00,349.64 248.50,349.72 249.00,350.03 249.50,350.08 250.00,350.26 250.50,350.07 251.00,349.92 251.50,350.09 252.00,349.77 252.50,350.26 253.00,350.53 253.50,350.83 254.00,350.98 254.50,350.59 255.00,350.50 255.50,350.30 256.00,350.25 256.50,350.43 257.00,350.45 257.50,350.64 258.00,350.66 258.50,350.80 259.00,350.71 259.50,350.28 260.00,350.28 260.50,349.88 261.00,350.01 261.50,350.33 262.00,350.44 262.50,350.71 263.00,350.91 263.50,350.71 264.00,350.64 264.50,350.40 265.00,349.74 265.50,349.73 266.00,349.29 266.50,349.35 267.00,349.53 267.50,349.48 268.00,349.67 268.50,349.30 269.00,349.26 269.50,348.86 270.00,348.73 270.50,348.78 271.00,348.60 271.50,348.57 272.00,348.37 272.50,348.25 273.00,347.83 273.50,347.77 274.00,347.66 274.50,347.84 275.00,348.41 275.50,348.07 276.00,348.30 276.50,348.08 277.00,347.68 277.50,348.12 278.00,348.01 278.50,347.73 279.00,347.87 279.50,347.76 280.00,347.87 280.50,347.97 281.00,348.13 281.50,348.30 282.00,348.09 282.50,348.20 283.00,348.10 283.50,347.88 284.00,348.40 284.50,348.57 285.00,348.43 285.50,348.41 286.00,348.11 286.50,348.50 287.00,348.66 287.50,348.85 288.00,348.97 288.50,348.59 289.00,349.09 289.50,349.09 290.00,349.27 290.50,349.48 291.00,349.39 291.50,349.48 292.00,349.87 292.50,350.02 293.00,350.11 293.50,350.32 294.00,350.02 294.50,350.24 295.00,350.47 295.50,350.77 296.00,351.07 296.50,351.00 297.00,350.71 297.50,350.58 298.00,350.30 298.50,349.97 299.00,349.90 299.50,349.79 300.00,349.55 300.50,349.35 301.00,349.21 301.50,349.22 302.00,349.08 302.50,349.11 303.00,349.03 303.50,349.07 304.00,349.01 304.50,349.36 305.00,349.89 305.50,349.82 306.00,350.68 306.50,350.95 307.00,350.82 307.50,351.09 308.00,350.56 308.50,350.35 309.00,350.73 309.50,350.49 310.00,351.02 310.50,351.03 311.00,350.80 311.50,350.87 312.00,350.06 312.50,349.88 313.00,349.64 313.50,349.33 314.00,349.39 314.50,349.46 315.00,349.22 315.50,349.05 316.00,349.09 316.50,349.12 317.00,349.10 317.50,349.53 318.00,349.90 318.50,349.76 319.00,349.66 319.50,349.29 320.00,349.06 320.50,349.25 321.00,349.54 321.50,349.92 322.00,349.90 322.50,349.85 323.00,349.77 323.50,349.66 324.00,349.55 324.50,349.25 325.00,349.26 325.50,349.11 326.00,349.11 326.50,349.39 327.00,349.31 327.50,349.83 328.00,349.95 328.50,349.50 329.00,349.41 329.50,348.72 330.00,348.19 330.50,348.25 331.00,347.76 331.50,346.96 332.00,347.05 332.50,346.61 333.00,346.87 333.50,347.15 334.00,346.66 334.50,346.90 335.00,346.31 335.50,346.33 336.00,346.66 336.50,346.28 337.00,346.33 337.50,346.20 338.00,346.00 338.50,345.74 339.00,345.79 339.50,345.81 340.00,346.02 340.50,346.07 341.00,345.79 341.50,345.84 342.00,345.43 342.50,345.65 343.00,345.99 343.50,346.24 344.00,346.40 344.50,346.56 345.00,346.31 345.50,346.18 346.00,346.78 346.50,346.89 347.00,347.45 347.50,347.67 348.00,347.81 348.50,348.28 349.00,348.52 349.50,349.18 350.00,349.43 350.50,349.81 351.00,350.14 351.50,350.51 352.00,350.65 352.50,350.54 353.00,350.56 353.50,350.20 354.00,350.26 354.50,350.21 355.00,350.46 355.50,350.58 356.00,350.62 356.50,350.77 357.00,350.53 357.50,350.04 358.00,349.81 358.50,349.76 359.00,349.74 359.50,350.13 360.00,349.94 360.50,349.69 361.00,349.44 361.50,349.54 362.00,349.61 362.50,349.55 363.00,349.44 363.50,349.15 364.00,349.35 364.50,349.49 365.00,349.59 365.50,349.86 366.00,349.86 366.50,349.96 367.00,350.25 367.50,350.23 368.00,350.12 368.50,350.13 369.00,349.91 369.50,350.03 370.00,350.04 370.50,350.33 371.00,350.18 371.50,350.11 372.00,350.31 372.50,349.97 373.00,350.48 373.50,350.56 374.00,350.55 374.50,350.58 375.00,350.53 375.50,350.63 376.00,350.80 376.50,350.95 377.00,351.01 377.50,350.88 378.00,350.85 378.50,350.65 379.00,350.40 379.50,350.39 380.00,350.01 380.50,350.09 381.00,350.34 381.50,350.40 382.00,350.41 382.50,350.65 383.00,350.33 383.50,350.34 384.00,350.25 384.50,349.89 385.00,350.31 385.50,350.14 386.00,350.28 386.50,350.42 387.00,350.39 387.50,350.45 388.00,350.59 388.50,350.85 389.00,350.64 389.50,350.57 390.00,350.49 390.50,350.51 391.00,350.80 391.50,351.11 392.00,351.20 392.50,350.97 393.00,350.94 393.50,350.65 394.00,350.80 394.50,350.95 395.00,350.68 395.50,350.74 396.00,350.50 396.50,350.42 397.00,350.57 397.50,349.99 398.00,349.31 398.50,347.81 399.00,346.52 399.50,345.60 400.00,344.45 400.50,343.87 401.00,342.15 401.50,340.45 402.00,338.74 402.50,336.23 403.00,334.28 403.50,331.94 404.00,328.47 404.50,324.35 405.00,319.58 405.50,314.33 406.00,309.22 406.50,304.49 407.00,299.91 407.50,295.71 408.00,291.89 408.50,288.06 409.00,284.89 409.50,282.22 410.00,279.24 410.50,276.87 411.00,275.52 411.50,275.78 412.00,276.95 412.50,279.16 413.00,281.59 413.50,284.78 414.00,289.46 414.50,294.85 415.00,300.72 415.50,306.35 416.00,311.32 416.50,316.40 417.00,321.68 417.50,326.11 418.00,329.87 418.50,332.12 419.00,333.52 419.50,335.09 420.00,335.92 420.50,336.69 421.00,337.23 421.50,337.52 422.00,337.80 422.50,338.02 423.00,338.36 423.50,338.64 424.00,339.17 424.50,339.60 425.00,339.94 425.50,340.50 426.00,341.38 426.50,342.18 427.00,343.03 427.50,343.68 428.00,343.90 428.50,344.38 429.00,344.81 429.50,345.27 430.00,345.93 430.50,346.28 431.00,347.03 431.50,347.78 432.00,348.22 432.50,348.96 433.00,349.24 433.50,349.47 434.00,349.59 434.50,350.08 435.00,350.17 435.50,350.40 436.00,350.74 436.50,350.40 437.00,350.48 437.50,350.43 438.00,350.28 438.50,350.30 439.00,350.26 439.50,349.82 440.00,350.21 440.50,350.39 441.00,350.48 441.50,351.00 442.00,350.62 442.50,350.51 443.00,350.83 443.50,350.81 444.00,350.59 444.50,350.03 445.00,349.56 445.50,349.58 446.00,349.89 446.50,350.44 447.00,350.74 447.50,350.40 448.00,350.53 448.50,350.71 449.00,350.69 449.50,350.91 450.00,350.77 450.50,350.73 451.00,350.57 451.50,350.73 452.00,351.29 452.50,351.07 453.00,350.77 453.50,350.47 454.00,350.08 454.50,350.39 455.00,350.94 455.50,350.86 456.00,350.64 456.50,350.65 457.00,350.24 457.50,350.53 458.00,350.58 458.50,350.45 459.00,350.72 459.50,350.61 460.00,350.73 460.50,350.36 461.00,350.23 461.50,350.02 462.00,349.86 462.50,350.17 463.00,349.99 463.50,349.78 464.00,349.52 464.50,349.16 465.00,349.24 465.50,349.13 466.00,349.36 466.50,349.37 467.00,349.09 467.50,348.90 468.00,348.63 468.50,348.59 469.00,348.21 469.50,348.54 470.00,348.66 470.50,348.46 471.00,348.70 471.50,348.74 472.00,348.48 472.50,348.05 473.00,347.73 473.50,347.02 474.00,346.50 474.50,345.94 475.00,345.75 475.50,345.30 476.00,344.97 476.50,344.93 477.00,344.32 477.50,343.49 478.00,342.24 478.50,341.14 479.00,339.94 479.50,338.61 480.00,337.69 480.50,336.43 481.00,335.00 481.50,334.12 482.00,332.44 482.50,331.24 483.00,329.96 483.50,328.61 484.00,327.56 484.50,326.53 485.00,326.44 485.50,326.43 486.00,327.08 486.50,327.89 487.00,328.77 487.50,329.67 488.00,330.75 488.50,332.14 489.00,333.23 489.50,334.58 490.00,335.95 490.50,337.26 491.00,338.77 491.50,340.62 492.00,342.26 492.50,343.89 493.00,345.23 493.50,346.01 494.00,346.57 494.50,347.20 495.00,347.77 495.50,348.63 496.00,349.73 496.50,350.57 497.00,350.80 497.50,350.80 498.00,350.80 498.50,350.80 499.00,350.80 499.50,350.80 500.00,350.80 500.50,350.80 501.00,350.80 501.50,350.80 502.00,350.80 502.50,350.80 503.00,350.80 503.50,350.80 504.00,350.80 504.50,350.80 505.00,350.80 505.50,350.80 506.00,350.80 506.50,350.80 507.00,350.80 507.50,350.80 508.00,350.80 508.50,350.80 509.00,350.80 509.50,350.80 510.00,350.80 510.50,350.80 511.00,350.80 511.50,350.80 512.00,350.80 512.50,350.80 513.00,350.80 513.50,350.80 514.00,350.80 514.50,350.80 515.00,350.80 515.50,350.80 516.00,350.80 516.50,350.80 517.00,350.80 517.50,350.80 518.00,350.80 518.50,350.40 519.00,350.41 519.50,350.59 520.00,350.53 520.50,350.68 521.00,350.04 521.50,349.91 522.00,350.49 522.50,350.07 523.00,350.53 523.50,350.31 524.00,350.10 524.50,349.83 525.00,349.77 525.50,349.95 526.00,349.47 526.50,349.80 527.00,349.45 527.50,349.24 528.00,349.36 528.50,349.08 529.00,349.35 529.50,349.57 530.00,349.46 530.50,349.38 531.00,349.15 531.50,348.87 532.00,349.00 532.50,349.00 533.00,349.11 533.50,349.11 534.00,348.77 534.50,348.91 535.00,348.61 535.50,348.58 536.00,348.95 536.50,348.57 537.00,348.70 537.50,348.39 538.00,348.02 538.50,347.92 539.00,347.85 539.50,348.01 540.00,348.11 540.50,348.65 541.00,348.76 541.50,348.97 542.00,348.95 542.50,348.65 543.00,348.49 543.50,348.09 544.00,348.16 544.50,348.54 545.00,348.82 545.50,349.10 546.00,349.45 546.50,349.16 547.00,349.04 547.50,349.00 548.00,348.62 548.50,348.74 549.00,349.28 549.50,349.55 550.00,349.62 550.50,349.65 551.00,349.35 551.50,349.18 552.00,349.47 552.50,349.78 553.00,349.96 553.50,350.45 554.00,350.28 554.50,349.94 555.00,350.18 555.50,350.34 556.00,350.36 556.50,350.75 557.00,350.58 557.50,350.54 558.00,350.88 558.50,350.79 559.00,350.85 559.50,350.80 560.00,350.76 560.50,350.53 561.00,349.96 561.50,349.78 562.00,349.47 562.50,349.81 563.00,350.41 563.50,350.55 564.00,350.71 564.50,350.62 565.00,350.63 565.50,350.38 566.00,350.53 566.50,350.56 567.00,350.31 567.50,350.60 568.00,350.22 568.50,350.17 569.00,349.86 569.50,349.38 570.00,349.22 570.50,349.03 571.00,348.93 571.50,348.97 572.00,348.86 572.50,348.87 573.00,349.26 573.50,349.20 574.00,349.60 574.50,349.42 575.00,349.40 575.50,349.30 576.00,348.66 576.50,348.76 577.00,348.29 577.50,348.04 578.00,348.15 578.50,347.56 579.00,347.52 579.50,347.49 580.00,347.84 580.50,348.22 581.00,347.94 581.50,347.85 582.00,347.47 582.50,347.00 583.00,347.25 583.50,347.49 584.00,347.44 584.50,347.67 585.00,347.76 585.50,348.00 586.00,348.39 586.50,348.48 587.00,348.53 587.50,348.14 588.00,347.94 588.50,347.76 589.00,347.73 589.50,347.63 590.00,347.38 590.50,347.55 591.00,347.51 591.50,347.48 592.00,347.55 592.50,347.62 593.00,347.68 593.50,347.98 594.00,348.33 594.50,348.54 595.00,349.05 595.50,349.61 596.00,349.68 596.50,349.65 597.00,349.70 597.50,350.05 598.00,350.50 598.50,351.17 599.00,351.11 599.50,350.66 600.00,350.75 600.50,350.60 601.00,350.78 601.50,350.75 602.00,350.62 602.50,350.46 603.00,350.44 603.50,350.54 604.00,350.36 604.50,350.32 605.00,350.36 605.50,350.42 606.00,350.34 606.50,350.22 607.00,349.76 607.50,349.97 608.00,349.74 608.50,349.73 609.00,349.98 609.50,349.89 610.00,350.15 610.50,350.41 611.00,350.40 611.50,350.35 612.00,350.36 612.50,350.51 613.00,350.41 613.50,350.51 614.00,350.31 614.50,350.19 615.00,349.93 615.50,349.40 616.00,349.69 616.50,349.38 617.00,349.68 617.50,349.75 618.00,349.95 618.50,350.10 619.00,349.82 619.50,350.04 620.00,349.92 620.50,349.77 621.00,350.00 621.50,350.22 622.00,350.08 622.50,350.04 623.00,349.64 623.50,349.15 624.00,348.47 624.50,347.66 625.00,347.34 625.50,346.73 626.00,346.98 626.50,347.20 627.00,346.80 627.50,346.44 628.00,345.88 628.50,345.37 629.00,345.11 629.50,344.93 630.00,344.43 630.50,344.12 631.00,343.75 631.50,343.50 632.00,343.28 632.50,342.49 633.00,342.48 633.50,341.87 634.00,341.45 634.50,341.30 635.00,340.59 635.50,340.28 636.00,339.78 636.50,339.76 637.00,339.55 637.50,339.10 638.00,338.87 638.50,338.70 639.00,338.63 639.50,338.72 640.00,338.75 640.50,338.72 641.00,338.60 641.50,338.68 642.00,339.29 642.50,339.59 643.00,340.16 643.50,340.65 644.00,341.02 644.50,341.81 645.00,342.18 645.50,342.82 646.00,342.87 646.50,343.26 647.00,343.88 647.50,344.10 648.00,344.95 648.50,345.23 649.00,345.66 649.50,346.39 650.00,346.56 650.50,346.87 651.00,347.32 651.50,347.62 652.00,347.87 652.50,348.62 653.00,348.78 653.50,348.99 654.00,349.33 654.50,349.37 655.00,349.84 655.50,350.23 656.00,350.72 656.50,350.53 657.00,350.46 657.50,350.46 658.00,350.39 658.50,350.78 659.00,350.49 659.50,351.11 660.00,350.93 660.50,350.87 661.00,351.33 661.50,350.87 662.00,351.01 662.50,350.37 663.00,349.96 663.50,349.86 664.00,349.58 664.50,349.82 665.00,349.50 665.50,349.49 666.00,349.65 666.50,349.59 667.00,349.89 667.50,349.57 668.00,349.20 668.50,349.23 669.00,349.22 669.50,349.27 670.00,349.62 670.50,349.62 671.00,349.45 671.50,349.38 672.00,349.02 672.50,348.78 673.00,349.06 673.50,348.92 674.00,349.06 674.50,349.39 675.00,349.00 675.50,349.19 676.00,349.26 676.50,349.14 677.00,349.41 677.50,349.18 678.00,348.73 678.50,348.71 679.00,348.49 679.50,348.79 680.00,349.24 680.50,349.21 681.00,349.39 681.50,349.49 682.00,349.66 682.50,349.83 683.00,349.91 683.50,349.64 684.00,349.43 684.50,349.48 685.00,349.39 685.50,349.50 686.00,349.34 686.50,348.95 687.00,348.67 687.50,348.55 688.00,348.98 688.50,349.48 689.00,349.60 689.50,349.40 690.00,349.31 690.50,349.18 691.00,349.12 691.50,349.58 692.00,349.47 692.50,349.62 693.00,349.92 693.50,349.89 694.00,349.91 694.50,349.52 695.00,349.42 695.50,349.14 696.00,349.23 696.50,349.22 697.00,348.99 697.50,349.23 698.00,349.29 698.50,349.71 699.00,350.17 699.50,349.79 700.00,349.47 700.50,349.12 701.00,348.92 701.50,348.82 702.00,348.96 702.50,349.13 703.00,349.00 703.50,349.44 704.00,349.70 704.50,349.72 705.00,350.13 705.50,350.35 706.00,350.28 706.50,350.42 707.00,350.24 707.50,350.36 708.00,350.28 708.50,350.17 709.00,350.44 709.50,350.17 710.00,350.41 710.50,350.79 711.00,350.75 711.50,350.96 712.00,351.11 712.50,351.12 713.00,350.89 713.50,350.69 714.00,350.80 714.50,350.77 715.00,350.70 715.50,350.71 716.00,350.48 716.50,350.20 717.00,350.52 717.50,350.57 718.00,350.41 718.50,350.09 719.00,349.80 719.50,349.81 720.00,349.26 720.50,349.38 721.00,349.17 721.50,348.70 722.00,348.59 722.50,347.94 723.00,347.39 723.50,347.19 724.00,347.14 724.50,347.32 725.00,347.37 725.50,347.10 726.00,346.52 726.50,345.71 727.00,345.05 727.50,344.35 728.00,343.73 728.50,342.92 729.00,342.03 729.50,340.94 730.00,340.26 730.50,339.74 731.00,339.32 731.50,339.28 732.00,338.93 732.50,339.04 733.00,338.62 733.50,338.03 734.00,338.16 734.50,338.30 735.00,339.00 735.50,339.76 736.00,340.04 736.50,340.18 737.00,340.14 737.50,340.50 738.00,341.07 738.50,341.56 739.00,342.77 739.50,343.27 740.00,343.78 740.50,344.80 741.00,345.24 741.50,346.21 742.00,346.85 742.50,347.11 743.00,347.78 743.50,348.31 744.00,348.88 744.50,349.14 745.00,349.23 745.50,349.37 746.00,349.30 746.50,349.47 747.00,349.49 747.50,349.80 748.00,350.06 748.50,350.31 749.00,350.69 749.50,350.39 750.00,350.20 750.50,350.29 751.00,349.95 751.50,349.96 752.00,350.06 752.50,349.64 753.00,349.45 753.50,349.20 754.00,349.09 754.50,348.77 755.00,348.39 755.50,348.37 756.00,348.11 756.50,348.50 757.00,348.78 757.50,348.89 758.00,349.29 758.50,349.39 759.00,349.45 759.50,349.67 760.00,349.79 760.50,350.05 761.00,350.52 761.50,350.97 762.00,351.20 762.50,351.51 763.00,351.56 763.50,351.17 764.00,351.14 764.50,350.80 765.00,350.27 765.50,350.16 766.00,349.91 766.50,349.66 767.00,349.90 767.50,349.94 768.00,349.91 768.50,349.89 769.00,349.87 769.50,349.86 770.00,350.01 770.50,349.95 771.00,349.80"/><polyline fill="none" stroke="#008000" stroke-width="1.5" stroke-linejoin="round" stroke-linecap="round" points="163.50,185.44 163.70,185.18 163.90,182.37 164.10,178.28 164.30,187.27 164.50,183.59 164.70,187.38 164.90,185.75 165.10,184.40 165.30,185.52 165.50,179.53 165.70,184.78 165.90,187.04 166.10,178.60 166.30,187.12 166.50,187.71 166.70,185.77 166.90,187.08 167.10,181.31 167.30,185.77 167.50,182.52 167.70,186.66 167.90,186.63 168.10,186.85 168.30,185.93 168.50,186.98 168.70,185.48 168.90,182.01 169.10,185.37 169.30,185.88 169.50,185.80 169.70,188.29 169.90,184.10 170.10,187.97 170.30,184.62 170.50,184.26 170.70,187.98 170.90,185.48 171.10,184.27 171.30,182.66 171.50,186.91 171.70,182.75 171.90,184.68 172.10,184.21 172.30,187.30 172.50,185.60 172.70,186.82 172.90,183.33 173.10,185.93 173.30,184.20 173.50,184.48 173.70,187.35 173.90,186.92 174.10,184.02 174.30,186.05 174.50,186.36 174.70,186.13 174.90,182.36 175.10,183.84 175.30,185.91 175.50,183.40 175.70,183.77 175.90,185.43 176.10,187.52 176.30,187.30 176.50,188.01 176.70,186.18 176.90,185.55 177.10,186.86 177.30,186.35 177.50,183.63 177.70,186.92 177.90,188.24 178.10,186.59 178.30,183.63 178.50,187.59 178.70,185.55 178.90,184.86 179.10,184.78 179.30,186.31 179.50,183.52 179.70,183.97 179.90,186.17 180.10,181.15 180.30,187.01 180.50,182.70 180.70,183.41 180.90,187.36 181.10,182.81 181.30,187.43 181.50,187.55 181.70,181.09 181.90,185.91 182.10,183.76 182.30,185.62 182.50,186.24 182.70,188.06 182.90,188.22 183.10,187.79 183.30,184.63 183.50,186.76 183.70,187.05 183.90,187.76 184.10,185.80 184.30,183.28 184.50,187.81 184.70,182.73 184.90,185.52 185.10,187.02 185.30,183.01 185.50,185.20 185.70,183.95 185.90,184.05 186.10,185.18 186.30,186.45 186.50,185.10 186.70,185.19 186.90,187.58 187.10,184.56 187.30,186.49 187.50,185.27 187.70,184.69 187.90,187.59 188.10,182.30 188.30,186.15 188.50,187.46 188.70,187.60 188.90,184.49 189.10,186.52 189.30,185.89 189.50,187.49 189.70,183.49 189.90,186.24 190.10,183.22 190.30,187.74 190.50,186.33 190.70,185.74 190.90,187.84 191.10,182.04 191.30,188.09 191.50,186.96 191.70,185.79 191.90,186.45 192.10,185.07 192.30,184.31 192.50,186.28 192.70,182.39 192.90,185.31 193.10,184.47 193.30,184.59 193.50,181.70 193.70,186.48 193.90,186.80 194.10,185.24 194.30,187.16 194.50,188.02 194.70,182.69 194.90,182.86 195.10,186.31 195.30,187.96 195.50,182.13 195.70,184.39 195.90,182.28 196.10,185.73 196.30,186.73 196.50,187.56 196.70,187.42 196.90,185.13 197.10,184.83 197.30,184.08 197.50,183.66 197.70,186.45 197.90,180.27 198.10,182.07 198.30,187.43 198.50,183.72 198.70,186.89 198.90,186.23 199.10,185.26 199.30,182.89 199.50,182.00 199.70,187.61 199.90,183.17 200.10,183.62 200.30,187.48 200.50,184.81 200.70,187.16 200.90,182.79 201.10,182.06 201.30,184.34 201.50,186.59 201.70,187.23 201.90,186.41 202.10,183.14 202.30,183.23 202.50,185.59 202.70,187.14 202.90,186.17 203.10,183.33 203.30,183.18 203.50,186.32 203.70,179.80 203.90,187.63 204.10,183.21 204.30,180.83 204.50,187.99 204.70,187.22 204.90,185.79 205.10,186.44 205.30,183.41 205.50,188.04 205.70,185.51 205.90,182.31 206.10,185.94 206.30,186.24 206.50,186.79 206.70,185.96 206.90,180.95 207.10,186.56 207.30,182.26 207.50,186.43 207.70,187.00 207.90,186.28 208.10,186.50 208.30,187.08 208.50,183.74 208.70,184.53 208.90,186.02 209.10,187.52 209.30,186.25 209.50,183.33 209.70,185.71 209.90,187.29 210.10,182.66 210.30,186.61 210.50,184.24 210.70,185.65 210.90,186.89 211.10,187.08 211.30,187.62 211.50,184.38 211.70,186.95 211.90,184.61 212.10,186.39 212.30,184.94 212.50,179.45 212.70,184.97 212.90,185.27 213.10,185.45 213.30,183.82 213.50,184.42 213.70,188.34 213.90,187.62 214.10,183.88 214.30,187.11 214.50,186.21 214.70,186.37 214.90,181.47 215.10,185.10 215.30,184.93 215.50,184.92 215.70,184.86 215.90,183.75 216.10,184.73 216.30,187.19 216.50,185.26 216.70,184.65 216.90,187.25 217.10,187.82 217.30,185.94 217.50,186.61 217.70,186.57 217.90,186.66 218.10,187.23 218.30,186.71 218.50,182.91 218.70,185.94 218.90,186.43 219.10,181.59 219.30,183.10 219.50,186.69 219.70,184.37 219.90,186.12 220.10,185.09 220.30,185.19 220.50,182.36 220.70,186.53 220.90,186.42 221.10,187.76 221.30,187.34 221.50,185.61 221.70,185.42 221.90,181.10 222.10,184.90 222.30,182.87 222.50,185.03 222.70,182.08 222.90,184.56 223.10,181.97 223.30,184.21 223.50,186.25 223.70,186.30 223.90,182.07 224.10,186.50 224.30,186.61 224.50,185.33 224.70,187.16 224.90,186.36 225.10,179.25 225.30,183.94 225.50,185.70 225.70,181.55 225.90,186.30 226.10,187.33 226.30,187.63 226.50,185.55 226.70,184.33 226.90,187.28 227.10,183.14 227.30,188.32 227.50,182.56 227.70,187.98 227.90,184.73 228.10,184.34 228.30,185.95 228.50,187.58 228.70,187.65 228.90,183.09 229.10,186.47 229.30,185.30 229.50,185.58 229.70,186.84 229.90,187.08 230.10,185.15 230.30,187.45 230.50,186.58 230.70,186.27 230.90,187.93 231.10,187.07 231.30,184.15 231.50,183.43 231.70,180.66 231.90,183.41 232.10,187.35 232.30,184.59 232.50,183.87 232.70,185.12 232.90,186.56 233.10,182.50 233.30,183.88 233.50,186.97 233.70,183.74 233.90,183.04 234.10,186.91 234.30,186.21 234.50,183.31 234.70,181.21 234.90,184.82 235.10,186.61 235.30,187.54 235.50,187.23 235.70,186.75 235.90,187.07 236.10,187.34 236.30,182.27 236.50,187.54 236.70,184.83 236.90,185.07 237.10,184.89 237.30,186.78 237.50,187.08 237.70,180.62 237.90,186.96 238.10,187.02 238.30,183.91 238.50,187.10 238.70,183.12 238.90,185.99 239.10,186.99 239.30,186.85 239.50,185.92 239.70,183.80 239.90,185.64 240.10,185.43 240.30,186.10 240.50,184.62 240.70,184.59 240.90,180.01 241.10,186.08 241.30,187.64 241.50,183.25 241.70,183.91 241.90,186.48 242.10,187.02 242.30,186.91 242.50,184.39 242.70,187.14 242.90,182.35 243.10,183.44 243.30,186.04 243.50,186.90 243.70,187.75 243.90,187.53 244.10,187.73 244.30,186.24 244.50,186.93 244.70,188.02 244.90,184.07 245.10,184.19 245.30,185.51 245.50,185.02 245.70,183.50 245.90,185.69 246.10,185.02 246.30,186.54 246.50,185.91 246.70,186.43 246.90,186.25 247.10,178.27 247.30,182.61 247.50,187.00 247.70,182.87 247.90,183.38 248.10,187.10 248.30,185.59 248.50,186.96 248.70,184.84 248.90,177.94 249.10,184.20 249.30,187.07 249.50,183.66 249.70,186.20 249.90,182.96 250.10,183.39 250.30,186.72 250.50,186.06 250.70,180.93 250.90,184.41 251.10,185.16 251.30,184.50 251.50,188.01 251.70,186.99 251.90,185.72 252.10,186.28 252.30,187.15 252.50,186.27 252.70,179.88 252.90,186.82 253.10,180.70 253.30,186.98 253.50,187.35 253.70,183.98 253.90,186.09 254.10,181.89 254.30,187.46 254.50,181.31 254.70,182.66 254.90,185.24 255.10,185.98 255.30,186.93 255.50,180.81 255.70,183.01 255.90,183.82 256.10,185.97 256.30,186.97 256.50,186.59 256.70,186.09 256.90,186.48 257.10,183.22 257.30,185.70 257.50,185.73 257.70,180.96 257.90,182.47 258.10,183.85 258.30,185.27 258.50,187.05 258.70,185.61 258.90,181.43 259.10,182.79 259.30,187.00 259.50,186.78 259.70,187.40 259.90,181.90 260.10,184.40 260.30,187.01 260.50,183.24 260.70,182.63 260.90,187.67 261.10,183.46 261.30,185.42 261.50,186.90 261.70,182.18 261.90,186.01 262.10,183.00 262.30,185.61 262.50,186.85 262.70,185.28 262.90,184.99 263.10,185.25 263.30,185.26 263.50,184.19 263.70,187.44 263.90,180.55 264.10,184.09 264.30,184.88 264.50,186.05 264.70,184.64 264.90,183.31 265.10,186.16 265.30,186.61 265.50,186.20 265.70,178.99 265.90,184.69 266.10,179.00 266.30,186.79 266.50,183.21 266.70,181.13 266.90,186.87 267.10,184.81 267.30,184.09 267.50,186.43 267.70,183.61 267.90,184.01 268.10,187.56 268.30,184.61 268.50,181.10 268.70,185.58 268.90,181.89 269.10,186.97 269.30,187.18 269.50,183.38 269.70,186.92 269.90,183.46 270.10,186.07 270.30,186.45 270.50,185.53 270.70,187.03 270.90,186.62 271.10,186.15 271.30,184.02 271.50,183.34 271.70,186.99 271.90,186.97 272.10,184.93 272.30,186.85 272.50,186.51 272.70,182.60 272.90,181.51 273.10,180.96 273.30,178.48 273.50,180.42 273.70,187.34 273.90,183.81 274.10,184.96 274.30,185.18 274.50,181.83 274.70,182.20 274.90,185.12 275.10,186.27 275.30,186.32 275.50,186.60 275.70,185.74 275.90,183.81 276.10,178.71 276.30,186.91 276.50,183.07 276.70,182.09 276.90,184.12 277.10,182.94 277.30,183.88 277.50,186.33 277.70,178.91 277.90,184.43 278.10,186.10 278.30,182.75 278.50,185.36 278.70,185.38 278.90,185.99 279.10,183.04 279.30,186.58 279.50,185.62 279.70,185.07 279.90,186.40 280.10,180.03 280.30,182.20 280.50,185.42 280.70,183.61 280.90,184.00 281.10,183.99 281.30,183.66 281.50,185.52 281.70,181.96 281.90,186.90 282.10,185.31 282.30,186.83 282.50,184.38 282.70,186.96 282.90,182.88 283.10,185.92 283.30,185.06 283.50,178.42 283.70,186.09 283.90,184.81 284.10,186.57 284.30,186.96 284.50,184.50 284.70,184.95 284.90,182.13 285.10,181.20 285.30,184.40 285.50,184.57 285.70,183.78 285.90,182.81 286.10,184.52 286.30,184.41 286.50,180.02 286.70,180.81 286.90,186.71 287.10,184.90 287.30,186.53 287.50,178.39 287.70,183.46 287.90,184.42 288.10,183.17 288.30,185.60 288.50,184.70 288.70,187.09 288.90,182.23 289.10,185.10 289.30,182.62 289.50,185.74 289.70,181.23 289.90,186.45 290.10,185.47 290.30,186.80 290.50,182.80 290.70,186.18 290.90,184.89 291.10,187.22 291.30,185.60 291.50,185.35 291.70,181.52 291.90,187.09 292.10,186.24 292.30,184.96 292.50,186.70 292.70,185.51 292.90,184.09 293.10,187.09 293.30,185.54 293.50,187.80 293.70,180.53 293.90,184.36 294.10,184.74 294.30,186.50 294.50,184.80 294.70,185.00 294.90,181.30 295.10,187.52 295.30,186.27 295.50,180.22 295.70,185.09 295.90,185.46 296.10,185.23 296.30,186.49 296.50,187.84 296.70,187.01 296.90,181.41 297.10,183.22 297.30,187.03 297.50,178.92 297.70,186.94 297.90,187.79 298.10,185.62 298.30,185.67 298.50,182.53 298.70,185.53 298.90,184.16 299.10,183.07 299.30,185.66 299.50,187.67 299.70,184.65 299.90,187.59 300.10,187.31 300.30,180.54 300.50,187.00 300.70,185.98 300.90,182.82 301.10,181.07 301.30,185.37 301.50,184.98 301.70,183.68 301.90,183.86 302.10,184.06 302.30,183.71 302.50,186.52 302.70,183.43 302.90,187.54 303.10,186.87 303.30,185.55 303.50,186.43 303.70,183.20 303.90,187.90 304.10,186.71 304.30,187.73 304.50,187.63 304.70,186.54 304.90,184.66 305.10,185.97 305.30,184.35 305.50,188.24 305.70,188.14 305.90,183.20 306.10,187.46 306.30,186.74 306.50,188.12 306.70,188.00 306.90,185.44 307.10,184.09 307.30,187.86 307.50,183.41 307.70,186.95 307.90,183.48 308.10,185.85 308.30,187.44 308.50,183.71 308.70,184.12 308.90,185.97 309.10,185.12 309.30,187.44 309.50,188.57 309.70,184.83 309.90,185.23 310.10,186.73 310.30,187.36 310.50,187.34 310.70,187.11 310.90,187.94 311.10,187.95 311.30,183.99 311.50,187.55 311.70,184.15 311.90,183.60 312.10,187.63 312.30,184.53 312.50,183.21 312.70,188.01 312.90,182.52 313.10,188.19 313.30,184.82 313.50,182.24 313.70,187.51 313.90,184.38 314.10,187.41 314.30,185.61 314.50,186.89 314.70,185.37 314.90,185.41 315.10,187.74 315.30,186.18 315.50,188.21 315.70,186.96 315.90,180.90 316.10,186.81 316.30,186.91 316.50,182.71 316.70,180.12 316.90,188.35 317.10,185.82 317.30,182.79 317.50,184.14 317.70,187.73 317.90,183.66 318.10,187.42 318.30,187.59 318.50,187.10 318.70,186.98 318.90,184.40 319.10,182.14 319.30,182.91 319.50,186.07 319.70,187.86 319.90,186.61 320.10,187.44 320.30,186.42 320.50,187.04 320.70,185.76 320.90,186.04 321.10,188.69 321.30,187.55 321.50,186.88 321.70,183.78 321.90,187.54 322.10,186.27 322.30,183.88 322.50,187.29 322.70,181.67 322.90,184.78 323.10,183.39 323.30,184.67 323.50,187.70 323.70,177.12 323.90,183.38 324.10,186.81 324.30,185.97 324.50,184.80 324.70,185.77 324.90,186.43 325.10,183.26 325.30,186.47 325.50,183.83 325.70,181.94 325.90,185.95 326.10,184.33 326.30,181.94 326.50,184.03 326.70,184.64 326.90,184.66 327.10,182.92 327.30,179.58 327.50,177.50 327.70,186.87 327.90,186.21 328.10,185.53 328.30,184.73 328.50,180.13 328.70,184.01 328.90,183.63 329.10,183.21 329.30,185.15 329.50,180.18 329.70,183.95 329.90,183.08 330.10,181.94 330.30,180.83 330.50,178.99 330.70,181.81 330.90,182.67 331.10,181.22 331.30,180.51 331.50,179.40 331.70,181.60 331.90,180.02 332.10,177.04 332.30,176.26 332.50,179.70 332.70,180.91 332.90,173.42 333.10,175.73 333.30,177.34 333.50,177.37 333.70,173.63 333.90,172.54 334.10,179.01 334.30,178.15 334.50,171.20 334.70,170.86 334.90,173.05 335.10,171.45 335.30,172.31 335.50,170.97 335.70,166.05 335.90,174.71 336.10,173.90 336.30,170.81 336.50,171.46 336.70,168.07 336.90,168.67 337.10,171.81 337.30,167.77 337.50,172.83 337.70,168.76 337.90,170.81 338.10,170.23 338.30,164.99 338.50,162.02 338.70,164.52 338.90,170.86 339.10,167.93 339.30,168.71 339.50,167.06 339.70,169.06 339.90,171.12 340.10,173.08 340.30,173.17 340.50,169.67 340.70,170.55 340.90,174.35 341.10,173.96 341.30,168.31 341.50,175.95 341.70,173.47 341.90,174.53 342.10,174.14 342.30,173.36 342.50,176.77 342.70,177.52 342.90,177.13 343.10,166.56 343.30,180.46 343.50,179.59 343.70,178.13 343.90,181.13 344.10,181.42 344.30,178.46 344.50,182.89 344.70,182.21 344.90,183.63 345.10,183.19 345.30,182.54 345.50,183.53 345.70,183.20 345.90,184.34 346.10,185.67 346.30,181.79 346.50,186.44 346.70,181.64 346.90,186.23 347.10,184.37 347.30,185.52 347.50,183.36 347.70,187.10 347.90,187.09 348.10,187.64 348.30,185.97 348.50,186.55 348.70,183.38 348.90,187.62 349.10,181.90 349.30,186.99 349.50,184.70 349.70,185.01 349.90,186.00 350.10,187.62 350.30,184.93 350.50,182.63 350.70,186.06 350.90,184.18 351.10,179.40 351.30,181.94 351.50,187.40 351.70,181.83 351.90,185.41 352.10,186.21 352.30,182.85 352.50,185.45 352.70,187.71 352.90,185.98 353.10,183.13 353.30,187.07 353.50,180.10 353.70,187.69 353.90,185.67 354.10,184.45 354.30,185.82 354.50,186.40 354.70,185.12 354.90,184.45 355.10,183.10 355.30,187.01 355.50,188.16 355.70,185.56 355.90,184.81 356.10,184.04 356.30,185.28 356.50,183.42 356.70,186.57 356.90,183.48 357.10,186.08 357.30,187.40 357.50,185.75 357.70,187.11 357.90,186.97 358.10,185.45 358.30,184.64 358.50,186.77 358.70,185.77 358.90,184.70 359.10,186.08 359.30,183.74 359.50,186.81 359.70,187.85 359.90,187.42 360.10,181.92 360.30,185.63 360.50,183.61 360.70,184.65 360.90,186.63 361.10,187.53 361.30,188.36 361.50,184.73 361.70,183.81 361.90,187.78 362.10,187.23 362.30,187.55 362.50,187.53 362.70,181.95 362.90,185.84 363.10,185.76 363.30,183.31 363.50,183.41 363.70,181.60 363.90,185.04 364.10,183.21 364.30,182.90 364.50,185.75 364.70,187.81 364.90,185.00 365.10,184.48 365.30,182.48 365.50,183.91 365.70,186.74 365.90,181.43 366.10,184.57 366.30,183.03 366.50,186.55 366.70,186.09 366.90,184.79 367.10,186.27 367.30,186.37 367.50,188.09 367.70,186.20 367.90,179.66 368.10,182.32 368.30,185.29 368.50,185.76 368.70,186.15 368.90,185.02 369.10,182.04 369.30,184.56 369.50,183.56 369.70,185.79 369.90,187.83 370.10,187.12 370.30,186.79 370.50,187.80 370.70,181.95 370.90,184.92 371.10,186.67 371.30,186.97 371.50,180.97 371.70,187.23 371.90,184.95 372.10,187.99 372.30,187.09 372.50,182.36 372.70,186.52 372.90,186.57 373.10,185.67 373.30,181.51 373.50,187.90 373.70,186.56 373.90,185.95 374.10,186.82 374.30,185.95 374.50,184.19 374.70,184.51 374.90,186.00 375.10,186.98 375.30,184.12 375.50,185.04 375.70,186.83 375.90,186.22 376.10,187.32 376.30,182.54 376.50,181.75 376.70,186.39 376.90,186.01 377.10,184.17 377.30,186.47 377.50,185.07 377.70,186.59 377.90,186.25 378.10,186.54 378.30,180.35 378.50,186.54 378.70,185.49 378.90,188.21 379.10,184.83 379.30,188.09 379.50,187.35 379.70,188.07 379.90,185.97 380.10,186.02 380.30,183.26 380.50,185.90 380.70,185.79 380.90,184.34 381.10,187.13 381.30,185.91 381.50,184.35 381.70,185.54 381.90,186.76 382.10,184.00 382.30,186.25 382.50,185.80 382.70,184.64 382.90,186.52 383.10,182.83 383.30,184.08 383.50,185.68 383.70,187.56 383.90,182.28 384.10,185.90 384.30,182.89 384.50,184.02 384.70,185.31 384.90,182.50 385.10,185.37 385.30,186.30 385.50,185.42 385.70,186.18 385.90,183.93 386.10,186.54 386.30,182.28 386.50,182.00 386.70,182.64 386.90,182.44 387.10,184.42 387.30,180.17 387.50,179.84 387.70,183.41 387.90,183.83 388.10,183.03 388.30,179.04 388.50,183.99 388.70,182.40 388.90,181.62 389.10,179.03 389.30,179.37 389.50,181.42 389.70,176.14 389.90,176.14 390.10,177.84 390.30,176.53 390.50,177.39 390.70,176.56 390.90,175.34 391.10,175.60 391.30,178.64 391.50,174.82 391.70,177.92 391.90,175.06 392.10,167.72 392.30,175.80 392.50,172.23 392.70,173.72 392.90,168.81 393.10,176.33 393.30,175.91 393.50,173.66 393.70,167.81 393.90,165.47 394.10,174.24 394.30,169.22 394.50,172.99 394.70,163.73 394.90,172.29 395.10,163.60 395.30,170.00 395.50,165.29 395.70,166.97 395.90,163.71 396.10,164.58 396.30,163.48 396.50,159.69 396.70,158.71 396.90,153.23 397.10,151.68 397.30,157.58 397.50,156.69 397.70,155.48 397.90,149.61 398.10,152.36 398.30,151.40 398.50,154.28 398.70,141.25 398.90,148.44 399.10,152.41 399.30,147.53 399.50,145.29 399.70,150.69 399.90,152.78 400.10,150.81 400.30,150.94 400.50,151.26 400.70,157.48 400.90,149.85 401.10,157.99 401.30,155.20 401.50,147.34 401.70,158.26 401.90,158.97 402.10,159.77 402.30,151.96 402.50,157.57 402.70,160.93 402.90,159.20 403.10,156.92 403.30,156.31 403.50,158.18 403.70,159.72 403.90,154.71 404.10,156.20 404.30,158.12 404.50,150.86 404.70,155.65 404.90,155.95 405.10,151.94 405.30,153.95 405.50,149.10 405.70,146.15 405.90,148.66 406.10,145.14 406.30,141.09 406.50,134.97 406.70,134.61 406.90,127.37 407.10,127.67 407.30,119.34 407.50,120.21 407.70,116.76 407.90,114.67 408.10,108.14 408.30,102.66 408.50,101.01 408.70,103.26 408.90,95.44 409.10,87.09 409.30,88.63 409.50,82.09 409.70,77.75 409.90,76.62 410.10,76.66 410.30,72.78 410.50,68.97 410.70,64.37 410.90,65.96 411.10,66.72 411.30,68.89 411.50,67.74 411.70,66.96 411.90,67.53 412.10,69.63 412.30,73.39 412.50,74.17 412.70,76.39 412.90,79.80 413.10,83.14 413.30,92.60 413.50,100.87 413.70,99.05 413.90,107.08 414.10,113.44 414.30,112.89 414.50,120.61 414.70,120.62 414.90,123.43 415.10,124.77 415.30,132.16 415.50,131.47 415.70,134.93 415.90,137.06 416.10,138.53 416.30,143.45 416.50,146.84 416.70,149.30 416.90,151.03 417.10,144.65 417.30,151.77 417.50,153.96 417.70,157.38 417.90,157.80 418.10,157.25 418.30,157.13 418.50,159.46 418.70,162.61 418.90,165.13 419.10,165.52 419.30,161.76 419.50,162.82 419.70,158.62 419.90,168.38 420.10,164.91 420.30,164.08 420.50,156.91 420.70,168.08 420.90,167.12 421.10,168.46 421.30,168.43 421.50,169.00 421.70,168.86 421.90,169.27 422.10,166.79 422.30,170.32 422.50,168.26 422.70,172.39 422.90,167.39 423.10,167.71 423.30,168.27 423.50,172.01 423.70,167.98 423.90,172.47 424.10,167.36 424.30,171.02 424.50,174.49 424.70,173.41 424.90,170.85 425.10,171.26 425.30,175.25 425.50,176.94 425.70,174.55 425.90,175.56 426.10,172.31 426.30,175.89 426.50,171.22 426.70,178.20 426.90,175.53 427.10,177.24 427.30,175.95 427.50,178.75 427.70,177.16 427.90,176.64 428.10,175.46 428.30,174.35 428.50,178.22 428.70,174.95 428.90,179.26 429.10,180.17 429.30,178.36 429.50,180.04 429.70,178.83 429.90,180.07 430.10,177.84 430.30,178.38 430.50,178.30 430.70,172.16 430.90,180.44 431.10,177.55 431.30,182.16 431.50,175.55 431.70,180.63 431.90,178.61 432.10,182.21 432.30,180.88 432.50,176.75 432.70,181.86 432.90,179.26 433.10,178.95 433.30,182.48 433.50,181.07 433.70,176.98 433.90,182.92 434.10,182.12 434.30,178.36 434.50,179.43 434.70,179.75 434.90,174.47 435.10,182.56 435.30,182.62 435.50,182.24 435.70,179.60 435.90,182.18 436.10,181.39 436.30,181.47 436.50,180.95 436.70,182.34 436.90,183.24 437.10,181.82 437.30,180.20 437.50,183.80 437.70,184.47 437.90,183.33 438.10,180.78 438.30,183.65 438.50,181.29 438.70,180.43 438.90,183.42 439.10,183.76 439.30,186.37 439.50,181.44 439.70,183.99 439.90,182.89 440.10,185.67 440.30,183.97 440.50,182.79 440.70,184.53 440.90,182.75 441.10,183.23 441.30,179.27 441.50,179.77 441.70,185.94 441.90,182.10 442.10,184.05 442.30,185.19 442.50,184.47 442.70,186.61 442.90,184.41 443.10,185.56 443.30,185.56 443.50,185.87 443.70,185.42 443.90,184.05 444.10,184.57 444.30,184.58 444.50,178.27 444.70,184.41 444.90,186.56 445.10,186.18 445.30,187.52 445.50,182.73 445.70,187.77 445.90,185.50 446.10,188.77 446.30,184.61 446.50,187.69 446.70,187.93 446.90,185.10 447.10,186.64 447.30,188.01 447.50,182.42 447.70,187.82 447.90,185.49 448.10,187.87 448.30,189.17 448.50,187.81 448.70,187.18 448.90,183.95 449.10,184.20 449.30,188.78 449.50,185.36 449.70,186.31 449.90,186.42 450.10,184.46 450.30,187.90 450.50,188.22 450.70,186.85 450.90,188.23 451.10,187.38 451.30,186.80 451.50,184.13 451.70,186.97 451.90,185.62 452.10,186.60 452.30,187.38 452.50,187.92 452.70,184.41 452.90,187.92 453.10,184.44 453.30,188.86 453.50,186.59 453.70,185.49 453.90,189.11 454.10,183.97 454.30,187.51 454.50,186.26 454.70,184.35 454.90,188.71 455.10,186.17 455.30,186.49 455.50,184.29 455.70,186.51 455.90,186.72 456.10,187.08 456.30,185.03 456.50,188.67 456.70,184.96 456.90,185.15 457.10,187.78 457.30,183.03 457.50,187.93 457.70,184.93 457.90,187.68 458.10,186.58 458.30,185.06 458.50,187.71 458.70,179.86 458.90,184.91 459.10,186.15 459.30,183.55 459.50,182.93 459.70,181.59 459.90,186.02 460.10,184.81 460.30,183.53 460.50,186.47 460.70,186.76 460.90,185.77 461.10,184.54 461.30,185.87 461.50,185.56 461.70,187.17 461.90,186.22 462.10,182.40 462.30,187.83 462.50,179.90 462.70,187.85 462.90,185.50 463.10,183.62 463.30,183.28 463.50,181.71 463.70,182.68 463.90,186.02 464.10,184.96 464.30,187.91 464.50,186.01 464.70,187.02 464.90,185.55 465.10,183.50 465.30,187.50 465.50,184.37 465.70,185.72 465.90,185.68 466.10,186.83 466.30,185.43 466.50,186.65 466.70,184.76 466.90,185.26 467.10,186.72 467.30,185.00 467.50,187.70 467.70,187.45 467.90,178.85 468.10,187.77 468.30,179.66 468.50,185.72 468.70,186.02 468.90,182.17 469.10,184.93 469.30,185.29 469.50,185.88 469.70,186.08 469.90,186.87 470.10,183.78 470.30,184.70 470.50,183.74 470.70,186.46 470.90,186.32 471.10,182.72 471.30,186.64 471.50,185.16 471.70,187.56 471.90,177.88 472.10,187.20 472.30,187.68 472.50,186.92 472.70,183.63 472.90,185.29 473.10,185.36 473.30,185.27 473.50,184.90 473.70,180.24 473.90,184.21 474.10,183.66 474.30,180.88 474.50,184.20 474.70,183.36 474.90,184.18 475.10,179.32 475.30,179.73 475.50,183.89 475.70,181.72 475.90,177.45 476.10,181.62 476.30,177.01 476.50,182.28 476.70,176.91 476.90,176.52 477.10,179.52 477.30,180.95 477.50,173.73 477.70,178.32 477.90,174.26 478.10,178.35 478.30,174.70 478.50,172.66 478.70,172.89 478.90,170.28 479.10,175.34 479.30,171.84 479.50,172.48 479.70,170.11 479.90,172.27 480.10,169.81 480.30,172.96 480.50,168.32 480.70,170.42 480.90,168.92 481.10,165.65 481.30,167.23 481.50,163.81 481.70,165.23 481.90,155.16 482.10,164.07 482.30,161.81 482.50,154.13 482.70,161.35 482.90,155.89 483.10,151.73 483.30,154.22 483.50,158.25 483.70,154.10 483.90,154.87 484.10,156.62 484.30,156.12 484.50,153.17 484.70,154.25 484.90,148.61 485.10,147.67 485.30,152.95 485.50,154.03 485.70,148.27 485.90,149.57 486.10,149.07 486.30,146.13 486.50,156.25 486.70,156.29 486.90,155.87 487.10,157.19 487.30,149.53 487.50,155.23 487.70,155.81 487.90,153.31 488.10,158.04 488.30,157.52 488.50,158.46 488.70,156.64 488.90,162.21 489.10,160.37 489.30,159.70 489.50,167.62 489.70,169.99 489.90,165.58 490.10,166.38 490.30,170.61 490.50,159.40 490.70,167.40 490.90,169.78 491.10,169.90 491.30,174.37 491.50,171.55 491.70,164.48 491.90,175.41 492.10,174.56 492.30,177.37 492.50,176.30 492.70,175.76 492.90,175.74 493.10,178.22 493.30,178.22 493.50,175.66 493.70,180.03 493.90,179.54 494.10,179.40 494.30,178.48 494.50,181.17 494.70,182.07 494.90,183.56 495.10,180.90 495.30,183.51 495.50,182.44 495.70,183.86 495.90,177.70 496.10,181.75 496.30,181.86 496.50,183.23 496.70,182.87 496.90,183.54 497.10,183.83 497.30,186.72 497.50,187.38 497.70,188.84 497.90,187.09 498.10,185.41 498.30,185.05 498.50,186.77 498.70,189.05 498.90,185.45 499.10,189.54 499.30,182.79 499.50,185.54 499.70,182.65 499.90,187.96 500.10,188.23 500.30,184.05 500.50,188.33 500.70,186.77 500.90,186.60 501.10,186.38 501.30,189.05 501.50,185.79 501.70,185.45 501.90,186.54 502.10,189.02 502.30,182.41 502.50,185.50 502.70,188.85 502.90,183.18 503.10,188.53 503.30,185.40 503.50,187.23 503.70,187.10 503.90,185.71 504.10,183.18 504.30,186.04 504.50,184.20 504.70,185.81 504.90,189.28 505.10,183.14 505.30,188.38 505.50,186.83 505.70,188.87 505.90,189.51 506.10,186.80 506.30,187.42 506.50,188.31 506.70,186.34 506.90,186.82 507.10,188.09 507.30,185.84 507.50,189.09 507.70,188.24 507.90,187.85 508.10,187.61 508.30,186.79 508.50,179.67 508.70,188.06 508.90,185.46 509.10,189.01 509.30,187.54 509.50,188.69 509.70,187.45 509.90,189.11 510.10,188.26 510.30,186.93 510.50,186.32 510.70,188.92 510.90,188.70 511.10,185.39 511.30,181.65 511.50,185.90 511.70,183.54 511.90,185.37 512.10,183.64 512.30,182.64 512.50,183.55 512.70,185.18 512.90,187.76 513.10,186.90 513.30,185.88 513.50,185.41 513.70,188.17 513.90,183.22 514.10,183.59 514.30,186.40 514.50,185.66 514.70,182.09 514.90,185.40 515.10,183.46 515.30,186.03 515.50,187.47 515.70,187.04 515.90,185.62 516.10,183.14 516.30,186.51 516.50,185.17 516.70,183.90 516.90,184.43 517.10,183.98 517.30,183.07 517.50,185.52 517.70,182.81 517.90,186.00 518.10,185.37 518.30,185.92 518.50,184.03 518.70,185.46 518.90,184.55 519.10,184.80 519.30,185.20 519.50,182.22 519.70,185.61 519.90,185.38 520.10,182.34 520.30,182.36 520.50,183.80 520.70,186.68 520.90,179.51 521.10,186.48 521.30,181.96 521.50,185.56 521.70,184.91 521.90,183.44 522.10,180.67 522.30,180.17 522.50,186.01 522.70,185.95 522.90,184.33 523.10,183.02 523.30,186.01 523.50,184.02 523.70,184.27 523.90,182.87 524.10,185.94 524.30,182.38 524.50,183.59 524.70,181.45 524.90,181.73 525.10,183.80 525.30,182.64 525.50,184.28 525.70,178.22 525.90,181.76 526.10,184.40 526.30,185.26 526.50,183.82 526.70,180.05 526.90,182.16 527.10,180.11 527.30,182.28 527.50,184.61 527.70,184.08 527.90,182.34 528.10,180.15 528.30,183.56 528.50,179.48 528.70,179.98 528.90,183.97 529.10,179.91 529.30,183.89 529.50,183.17 529.70,181.75 529.90,182.73 530.10,182.75 530.30,183.43 530.50,180.76 530.70,179.08 530.90,184.34 531.10,175.62 531.30,184.73 531.50,181.65 531.70,183.49 531.90,182.82 532.10,180.48 532.30,183.14 532.50,178.60 532.70,182.36 532.90,181.01 533.10,179.87 533.30,182.56 533.50,181.05 533.70,183.97 533.90,178.30 534.10,177.80 534.30,183.68 534.50,183.71 534.70,180.71 534.90,182.37 535.10,178.75 535.30,182.33 535.50,184.20 535.70,181.57 535.90,178.84 536.10,181.00 536.30,180.71 536.50,182.54 536.70,180.45 536.90,178.68 537.10,182.40 537.30,184.26 537.50,184.32 537.70,174.49 537.90,177.20 538.10,180.39 538.30,182.25 538.50,183.31 538.70,183.09 538.90,177.37 539.10,182.65 539.30,184.55 539.50,184.35 539.70,179.45 539.90,183.88 540.10,184.88 540.30,179.82 540.50,181.92 540.70,177.44 540.90,185.34 541.10,184.17 541.30,180.53 541.50,182.50 541.70,182.14 541.90,184.55 542.10,181.72 542.30,183.47 542.50,175.88 542.70,180.76 542.90,180.28 543.10,179.66 543.30,184.49 543.50,184.11 543.70,183.85 543.90,177.86 544.10,185.45 544.30,183.68 544.50,181.45 544.70,184.24 544.90,179.13 545.10,183.04 545.30,183.42 545.50,179.20 545.70,184.82 545.90,185.47 546.10,185.75 546.30,181.99 546.50,182.74 546.70,185.36 546.90,185.51 547.10,185.56 547.30,179.98 547.50,183.12 547.70,179.83 547.90,185.66 548.10,184.91 548.30,174.78 548.50,182.27 548.70,184.27 548.90,185.77 549.10,183.85 549.30,185.15 549.50,184.97 549.70,183.83 549.90,183.06 550.10,172.58 550.30,184.00 550.50,183.92 550.70,184.48 550.90,182.39 551.10,183.35 551.30,184.99 551.50,179.59 551.70,181.73 551.90,185.55 552.10,182.64 552.30,185.73 552.50,183.49 552.70,181.28 552.90,182.33 553.10,183.68 553.30,186.89 553.50,182.96 553.70,185.12 553.90,184.98 554.10,185.88 554.30,184.55 554.50,186.34 554.70,180.43 554.90,183.10 555.10,186.72 555.30,185.92 555.50,185.01 555.70,184.95 555.90,178.15 556.10,185.24 556.30,185.15 556.50,184.34 556.70,185.06 556.90,182.35 557.10,182.96 557.30,185.36 557.50,186.17 557.70,179.55 557.90,183.30 558.10,183.61 558.30,186.14 558.50,182.44 558.70,184.30 558.90,186.87 559.10,182.41 559.30,184.54 559.50,186.64 559.70,186.03 559.90,182.50 560.10,182.89 560.30,181.90 560.50,185.96 560.70,184.30 560.90,185.14 561.10,185.90 561.30,186.47 561.50,183.34 561.70,182.09 561.90,184.37 562.10,183.05 562.30,185.26 562.50,181.56 562.70,185.90 562.90,185.26 563.10,187.44 563.30,184.83 563.50,184.67 563.70,186.63 563.90,180.18 564.10,187.03 564.30,184.71 564.50,182.51 564.70,188.04 564.90,185.86 565.10,187.08 565.30,183.48 565.50,184.72 565.70,187.28 565.90,182.99 566.10,186.01 566.30,186.60 566.50,184.06 566.70,185.89 566.90,183.64 567.10,184.82 567.30,186.59 567.50,187.30 567.70,188.34 567.90,185.68 568.10,186.81 568.30,186.57 568.50,185.16 568.70,187.64 568.90,181.56 569.10,181.51 569.30,186.31 569.50,188.22 569.70,184.46 569.90,187.46 570.10,180.81 570.30,183.57 570.50,188.07 570.70,184.15 570.90,184.34 571.10,186.80 571.30,187.73 571.50,187.95 571.70,185.37 571.90,185.57 572.10,184.69 572.30,183.17 572.50,187.61 572.70,185.09 572.90,188.32 573.10,183.33 573.30,187.89 573.50,186.98 573.70,186.61 573.90,183.59 574.10,185.37 574.30,186.46 574.50,186.20 574.70,182.15 574.90,184.72 575.10,186.89 575.30,187.28 575.50,184.51 575.70,183.80 575.90,187.72 576.10,183.95 576.30,187.13 576.50,186.98 576.70,186.46 576.90,188.67 577.10,185.08 577.30,187.64 577.50,187.98 577.70,186.59 577.90,185.06 578.10,184.52 578.30,186.18 578.50,188.41 578.70,186.17 578.90,187.20 579.10,186.99 579.30,185.72 579.50,187.45 579.70,186.91 579.90,186.18 580.10,185.49 580.30,183.02 580.50,181.16 580.70,186.49 580.90,183.23 581.10,183.86 581.30,187.56 581.50,183.07 581.70,181.69 581.90,185.89 582.10,183.65 582.30,186.26 582.50,185.02 582.70,183.52 582.90,182.79 583.10,185.50 583.30,184.10 583.50,186.63 583.70,180.72 583.90,183.37 584.10,185.09 584.30,184.78 584.50,187.22 584.70,184.98 584.90,184.36 585.10,183.96 585.30,183.74 585.50,185.60 585.70,182.08 585.90,185.85 586.10,182.74 586.30,181.96 586.50,184.94 586.70,184.83 586.90,186.11 587.10,185.03 587.30,182.58 587.50,185.03 587.70,179.22 587.90,180.43 588.10,185.88 588.30,184.40 588.50,184.45 588.70,180.29 588.90,180.25 589.10,184.18 589.30,181.66 589.50,178.00 589.70,180.19 589.90,184.20 590.10,181.88 590.30,183.14 590.50,181.26 590.70,183.33 590.90,182.71 591.10,177.81 591.30,180.50 591.50,179.62 591.70,181.20 591.90,180.67 592.10,178.76 592.30,172.83 592.50,179.58 592.70,179.58 592.90,181.30 593.10,180.53 593.30,176.52 593.50,178.29 593.70,177.59 593.90,179.30 594.10,177.13 594.30,173.09 594.50,177.50 594.70,176.70 594.90,177.18 595.10,172.54 595.30,173.95 595.50,177.04 595.70,177.59 595.90,176.14 596.10,171.86 596.30,174.11 596.50,175.55 596.70,174.99 596.90,175.90 597.10,177.22 597.30,175.32 597.50,171.92 597.70,176.39 597.90,177.18 598.10,176.39 598.30,172.55 598.50,168.71 598.70,175.78 598.90,168.68 599.10,176.81 599.30,178.06 599.50,179.23 599.70,175.42 599.90,177.34 600.10,174.54 600.30,172.05 600.50,175.89 600.70,178.97 600.90,172.99 601.10,181.43 601.30,179.64 601.50,182.81 601.70,179.76 601.90,182.92 602.10,177.40 602.30,182.79 602.50,183.01 602.70,183.14 602.90,183.39 603.10,182.79 603.30,181.67 603.50,179.68 603.70,183.31 603.90,184.85 604.10,183.49 604.30,182.37 604.50,185.81 604.70,183.19 604.90,184.00 605.10,181.53 605.30,184.11 605.50,183.05 605.70,183.26 605.90,186.67 606.10,183.75 606.30,187.12 606.50,186.43 606.70,186.74 606.90,187.08 607.10,184.09 607.30,187.54 607.50,186.68 607.70,187.18 607.90,186.77 608.10,183.68 608.30,187.08 608.50,183.82 608.70,183.99 608.90,184.61 609.10,186.17 609.30,188.14 609.50,180.10 609.70,181.50 609.90,186.56 610.10,186.80 610.30,183.50 610.50,187.84 610.70,187.12 610.90,187.56 611.10,183.51 611.30,186.69 611.50,187.79 611.70,185.34 611.90,184.85 612.10,187.78 612.30,185.89 612.50,186.70 612.70,187.44 612.90,184.13 613.10,187.33 613.30,185.20 613.50,184.66 613.70,187.05 613.90,186.10 614.10,184.51 614.30,185.80 614.50,188.70 614.70,187.51 614.90,188.93 615.10,187.88 615.30,184.34 615.50,184.94 615.70,187.81 615.90,186.61 616.10,183.23 616.30,186.20 616.50,182.89 616.70,185.14 616.90,188.15 617.10,187.70 617.30,186.03 617.50,186.42 617.70,185.60 617.90,185.84 618.10,186.68 618.30,185.80 618.50,185.36 618.70,187.37 618.90,187.13 619.10,186.92 619.30,185.33 619.50,182.89 619.70,184.80 619.90,187.29 620.10,187.15 620.30,188.37 620.50,186.69 620.70,185.79 620.90,187.74 621.10,184.16 621.30,181.44 621.50,183.52 621.70,184.34 621.90,186.88 622.10,180.67 622.30,182.41 622.50,183.38 622.70,182.91 622.90,181.99 623.10,186.34 623.30,187.06 623.50,182.92 623.70,186.01 623.90,186.27 624.10,182.42 624.30,183.96 624.50,181.93 624.70,187.04 624.90,179.14 625.10,184.77 625.30,182.34 625.50,186.11 625.70,185.03 625.90,184.81 626.10,184.80 626.30,184.89 626.50,182.52 626.70,182.14 626.90,182.11 627.10,184.82 627.30,182.28 627.50,183.24 627.70,184.24 627.90,181.20 628.10,180.98 628.30,184.40 628.50,182.44 628.70,180.62 628.90,184.22 629.10,183.58 629.30,181.57 629.50,179.62 629.70,183.55 629.90,178.76 630.10,181.96 630.30,177.71 630.50,178.11 630.70,182.41 630.90,182.26 631.10,177.30 631.30,183.43 631.50,181.86 631.70,181.24 631.90,179.72 632.10,176.34 632.30,174.79 632.50,176.87 632.70,177.82 632.90,180.51 633.10,179.15 633.30,180.28 633.50,179.15 633.70,180.53 633.90,177.12 634.10,178.02 634.30,179.76 634.50,175.79 634.70,180.27 634.90,180.42 635.10,180.05 635.30,179.89 635.50,178.23 635.70,179.64 635.90,177.10 636.10,178.94 636.30,176.31 636.50,179.49 636.70,172.82 636.90,178.32 637.10,181.40 637.30,172.51 637.50,176.82 637.70,178.62 637.90,176.09 638.10,181.38 638.30,177.70 638.50,173.70 638.70,180.02 638.90,172.35 639.10,180.91 639.30,180.54 639.50,175.66 639.70,179.14 639.90,181.02 640.10,174.35 640.30,178.06 640.50,175.28 640.70,176.32 640.90,181.18 641.10,177.60 641.30,175.39 641.50,180.29 641.70,182.69 641.90,176.06 642.10,179.08 642.30,178.44 642.50,173.01 642.70,182.75 642.90,178.23 643.10,178.49 643.30,183.12 643.50,183.19 643.70,181.80 643.90,182.90 644.10,177.82 644.30,181.12 644.50,181.51 644.70,178.85 644.90,179.85 645.10,178.60 645.30,179.27 645.50,179.31 645.70,176.88 645.90,181.37 646.10,182.36 646.30,183.27 646.50,183.33 646.70,184.32 646.90,181.01 647.10,179.95 647.30,182.61 647.50,183.80 647.70,185.56 647.90,182.99 648.10,186.26 648.30,186.25 648.50,181.46 648.70,186.36 648.90,187.22 649.10,183.78 649.30,185.31 649.50,187.51 649.70,186.28 649.90,185.33 650.10,186.05 650.30,185.40 650.50,186.87 650.70,183.09 650.90,184.47 651.10,180.53 651.30,187.31 651.50,186.43 651.70,187.41 651.90,184.79 652.10,185.18 652.30,186.26 652.50,185.00 652.70,186.27 652.90,188.68 653.10,188.03 653.30,187.56 653.50,188.01 653.70,187.91 653.90,187.16 654.10,187.33 654.30,185.36 654.50,187.92 654.70,186.15 654.90,184.37 655.10,186.95 655.30,186.10 655.50,185.92 655.70,187.90 655.90,180.20 656.10,183.24 656.30,189.40 656.50,187.69 656.70,189.26 656.90,185.98 657.10,188.33 657.30,181.67 657.50,185.92 657.70,187.80 657.90,187.97 658.10,186.40 658.30,185.30 658.50,187.63 658.70,187.68 658.90,188.43 659.10,187.91 659.30,188.23 659.50,183.92 659.70,181.94 659.90,188.39 660.10,188.40 660.30,186.16 660.50,183.58 660.70,188.92 660.90,187.45 661.10,188.70 661.30,187.79 661.50,189.26 661.70,187.53 661.90,183.86 662.10,184.71 662.30,186.30 662.50,187.54 662.70,186.23 662.90,188.92 663.10,184.97 663.30,185.15 663.50,187.06 663.70,189.32 663.90,186.26 664.10,187.13 664.30,186.20 664.50,188.31 664.70,187.34 664.90,184.81 665.10,185.84 665.30,182.89 665.50,186.39 665.70,185.84 665.90,184.34 666.10,186.35 666.30,186.71 666.50,187.56 666.70,188.63 666.90,188.10 667.10,187.86 667.30,184.71 667.50,185.05 667.70,183.25 667.90,185.27 668.10,186.03 668.30,185.71 668.50,186.97 668.70,186.88 668.90,185.09 669.10,185.42 669.30,188.22 669.50,185.67 669.70,182.83 669.90,185.83 670.10,188.01 670.30,187.60 670.50,185.84 670.70,186.72 670.90,186.15 671.10,186.71 671.30,186.11 671.50,186.82 671.70,185.10 671.90,187.76 672.10,187.10 672.30,184.51 672.50,187.12 672.70,182.32 672.90,186.71 673.10,186.08 673.30,185.33 673.50,187.47 673.70,186.65 673.90,187.12 674.10,182.57 674.30,183.32 674.50,187.31 674.70,187.34 674.90,185.81 675.10,185.92 675.30,187.21 675.50,187.29 675.70,184.54 675.90,186.18 676.10,186.53 676.30,185.06 676.50,183.99 676.70,185.18 676.90,187.39 677.10,185.49 677.30,187.16 677.50,186.68 677.70,182.77 677.90,182.53 678.10,185.00 678.30,187.86 678.50,185.31 678.70,182.63 678.90,186.51 679.10,186.68 679.30,182.20 679.50,187.67 679.70,184.17 679.90,183.02 680.10,187.75 680.30,185.39 680.50,186.49 680.70,182.40 680.90,181.27 681.10,184.35 681.30,186.52 681.50,183.71 681.70,187.39 681.90,186.36 682.10,184.53 682.30,187.29 682.50,182.98 682.70,185.85 682.90,186.60 683.10,187.28 683.30,183.45 683.50,185.24 683.70,184.08 683.90,182.78 684.10,187.63 684.30,183.79 684.50,186.49 684.70,184.38 684.90,183.23 685.10,183.75 685.30,183.51 685.50,186.26 685.70,186.09 685.90,185.89 686.10,180.58 686.30,184.25 686.50,185.66 686.70,186.16 686.90,186.40 687.10,184.12 687.30,184.60 687.50,185.31 687.70,186.61 687.90,184.00 688.10,185.72 688.30,183.47 688.50,184.98 688.70,184.59 688.90,184.43 689.10,186.24 689.30,186.55 689.50,186.23 689.70,185.63 689.90,183.12 690.10,185.00 690.30,182.19 690.50,185.09 690.70,188.13 690.90,187.33 691.10,185.79 691.30,187.22 691.50,187.42 691.70,188.12 691.90,180.76 692.10,185.92 692.30,185.42 692.50,185.20 692.70,186.70 692.90,184.63 693.10,185.71 693.30,184.58 693.50,187.18 693.70,186.90 693.90,185.19 694.10,187.27 694.30,183.60 694.50,184.79 694.70,188.18 694.90,187.35 695.10,186.76 695.30,187.69 695.50,184.13 695.70,187.13 695.90,187.27 696.10,187.01 696.30,186.39 696.50,181.89 696.70,184.50 696.90,180.87 697.10,185.37 697.30,188.11 697.50,182.81 697.70,182.96 697.90,186.94 698.10,187.68 698.30,187.23 698.50,183.92 698.70,185.56 698.90,184.89 699.10,185.90 699.30,187.01 699.50,186.94 699.70,185.21 699.90,187.28 700.10,187.72 700.30,186.86 700.50,182.91 700.70,187.30 700.90,187.68 701.10,187.45 701.30,185.01 701.50,187.57 701.70,185.55 701.90,187.23 702.10,187.47 702.30,184.78 702.50,188.31 702.70,185.50 702.90,185.04 703.10,186.99 703.30,184.70 703.50,185.44 703.70,187.41 703.90,185.36 704.10,187.18 704.30,185.81 704.50,186.10 704.70,184.83 704.90,180.12 705.10,186.25 705.30,185.66 705.50,188.13 705.70,184.26 705.90,187.62 706.10,182.90 706.30,185.07 706.50,182.70 706.70,187.74 706.90,185.56 707.10,180.65 707.30,188.41 707.50,182.99 707.70,184.00 707.90,185.80 708.10,188.25 708.30,187.03 708.50,184.28 708.70,188.59 708.90,183.67 709.10,187.64 709.30,187.41 709.50,188.11 709.70,188.10 709.90,187.61 710.10,187.93 710.30,180.81 710.50,182.47 710.70,182.04 710.90,184.84 711.10,186.82 711.30,183.46 711.50,183.29 711.70,186.56 711.90,184.65 712.10,178.61 712.30,184.78 712.50,185.95 712.70,178.71 712.90,187.80 713.10,187.45 713.30,183.59 713.50,186.38 713.70,188.04 713.90,187.17 714.10,187.34 714.30,184.69 714.50,182.71 714.70,185.11 714.90,186.38 715.10,187.62 715.30,184.16 715.50,182.10 715.70,186.17 715.90,185.14 716.10,183.89 716.30,178.16 716.50,185.68 716.70,184.29 716.90,187.17 717.10,184.49 717.30,184.99 717.50,186.76 717.70,184.23 717.90,183.55 718.10,184.91 718.30,181.25 718.50,183.22 718.70,185.84 718.90,182.33 719.10,185.43 719.30,180.37 719.50,185.12 719.70,181.66 719.90,184.49 720.10,179.55 720.30,182.28 720.50,186.51 720.70,184.21 720.90,182.95 721.10,184.03 721.30,184.72 721.50,182.68 721.70,184.73 721.90,180.74 722.10,183.58 722.30,177.98 722.50,175.88 722.70,178.98 722.90,184.58 723.10,184.90 723.30,182.04 723.50,177.51 723.70,181.56 723.90,180.37 724.10,181.06 724.30,182.82 724.50,177.18 724.70,179.60 724.90,180.85 725.10,183.81 725.30,182.52 725.50,176.81 725.70,182.37 725.90,181.04 726.10,178.67 726.30,181.91 726.50,178.40 726.70,179.20 726.90,178.92 727.10,177.70 727.30,178.08 727.50,178.83 727.70,175.28 727.90,179.46 728.10,176.30 728.30,175.60 728.50,179.69 728.70,175.95 728.90,177.12 729.10,178.28 729.30,180.09 729.50,179.57 729.70,180.55 729.90,180.33 730.10,179.04 730.30,172.98 730.50,175.37 730.70,178.92 730.90,177.25 731.10,175.54 731.30,175.94 731.50,178.42 731.70,177.42 731.90,170.89 732.10,171.32 732.30,173.88 732.50,169.82 732.70,172.24 732.90,170.98 733.10,166.55 733.30,167.61 733.50,171.45 733.70,171.33 733.90,171.01 734.10,164.16 734.30,170.04 734.50,169.31 734.70,172.45 734.90,164.45 735.10,170.54 735.30,169.43 735.50,168.19 735.70,170.61 735.90,167.63 736.10,170.92 736.30,171.38 736.50,173.94 736.70,167.99 736.90,172.08 737.10,176.72 737.30,171.22 737.50,175.48 737.70,178.45 737.90,175.39 738.10,178.31 738.30,174.96 738.50,173.93 738.70,176.17 738.90,178.13 739.10,180.59 739.30,180.68 739.50,178.53 739.70,180.43 739.90,178.71 740.10,181.90 740.30,180.36 740.50,183.89 740.70,179.24 740.90,181.17 741.10,185.35 741.30,184.89 741.50,184.47 741.70,180.87 741.90,185.95 742.10,184.75 742.30,182.60 742.50,187.35 742.70,183.80 742.90,185.14 743.10,187.74 743.30,185.62 743.50,182.68 743.70,183.76 743.90,186.34 744.10,186.92 744.30,182.18 744.50,184.76 744.70,186.78 744.90,186.64 745.10,188.53 745.30,187.50 745.50,186.96 745.70,187.95 745.90,186.03 746.10,185.10 746.30,182.51 746.50,181.19 746.70,187.05 746.90,189.06 747.10,188.11 747.30,187.83 747.50,188.38 747.70,188.45 747.90,185.52 748.10,185.75 748.30,185.85 748.50,187.26 748.70,184.57 748.90,187.16 749.10,186.92 749.30,185.60 749.50,187.67 749.70,188.32 749.90,187.80 750.10,187.83 750.30,182.99 750.50,188.56 750.70,186.84 750.90,189.39 751.10,188.63 751.30,179.13 751.50,185.01 751.70,187.62 751.90,187.59 752.10,188.11 752.30,188.58 752.50,189.28 752.70,188.42 752.90,187.45 753.10,184.63 753.30,186.33 753.50,187.62 753.70,188.12 753.90,185.98 754.10,186.24 754.30,187.03 754.50,186.71 754.70,185.93 754.90,183.05 755.10,185.15 755.30,187.12 755.50,186.98 755.70,185.97 755.90,183.65 756.10,183.63 756.30,181.66 756.50,181.14 756.70,183.38 756.90,182.10 757.10,187.66 757.30,186.91 757.50,180.82 757.70,187.85 757.90,185.04 758.10,186.88 758.30,179.79 758.50,184.64 758.70,186.57 758.90,184.91 759.10,185.58 759.30,185.01 759.50,186.83 759.70,180.69 759.90,184.02 760.10,186.55 760.30,182.90 760.50,181.78 760.70,186.72 760.90,184.50 761.10,186.37 761.30,183.87 761.50,183.43 761.70,182.03 761.90,184.03 762.10,181.43 762.30,185.01 762.50,186.49 762.70,183.63 762.90,183.77 763.10,184.30 763.30,186.04 763.50,182.97 763.70,185.05 763.90,185.99 764.10,183.66 764.30,182.95 764.50,181.25 764.70,180.02 764.90,184.84 765.10,184.00 765.30,185.38 765.50,181.49 765.70,181.57 765.90,185.23 766.10,181.85 766.30,181.18 766.50,186.05 766.70,186.80 766.90,186.46 767.10,184.66 767.30,184.58 767.50,185.15 767.70,182.69 767.90,183.24 768.10,180.47 768.30,187.29 768.50,187.20 768.70,186.73 768.90,184.34 769.10,187.19 769.30,183.80 769.50,187.90 769.70,183.43 769.90,184.75 770.10,182.42 770.30,184.12 770.50,185.45 770.70,187.49 770.90,187.30 771.10,185.18"/><polyline fill="none" stroke="#ff00ff" stroke-width="1.35" stroke-linejoin="round" points="163.50,267.33 164.00,267.92 164.50,268.33 165.00,268.33 165.50,268.52 166.00,268.26 166.50,268.30 167.00,268.43 167.50,268.58 168.00,268.83 168.50,269.17 169.00,269.58 169.50,269.70 170.00,269.45 170.50,269.61 171.00,269.25 171.50,269.38 172.00,269.59 172.50,269.04 173.00,269.23 173.50,268.86 174.00,268.90 174.50,268.93 175.00,269.19 175.50,268.86 176.00,268.67 176.50,268.41 177.00,268.16 177.50,268.01 178.00,267.86 178.50,267.99 179.00,267.55 179.50,268.09 180.00,268.21 180.50,268.41 181.00,268.92 181.50,268.68 182.00,268.62 182.50,268.53 183.00,268.62 183.50,269.07 184.00,269.20 184.50,269.24 185.00,269.06 185.50,268.87 186.00,269.00 186.50,269.09 187.00,269.53 187.50,269.42 188.00,269.24 188.50,269.13 189.00,268.37 189.50,268.17 190.00,268.01 190.50,267.89 191.00,267.70 191.50,267.95 192.00,267.94 192.50,268.03 193.00,268.69 193.50,268.90 194.00,269.46 194.50,269.72 195.00,269.71 195.50,269.65 196.00,269.20 196.50,269.22 197.00,268.89 197.50,268.38 198.00,268.67 198.50,268.19 199.00,267.91 199.50,268.29 200.00,267.76 200.50,267.95 201.00,268.01 201.50,267.64 202.00,267.40 202.50,266.88 203.00,266.86 203.50,266.89 204.00,267.32 204.50,268.08 205.00,268.07 205.50,268.26 206.00,268.01 206.50,267.56 207.00,267.48 207.50,267.05 208.00,267.04 208.50,266.92 209.00,267.26 209.50,267.51 210.00,267.98 210.50,268.35 211.00,268.51 211.50,268.96 212.00,268.93 212.50,268.99 213.00,269.00 213.50,268.84 214.00,269.00 214.50,269.20 215.00,269.33 215.50,269.55 216.00,269.32 216.50,269.32 217.00,269.06 217.50,269.20 218.00,269.35 218.50,269.33 219.00,269.71 219.50,269.50 220.00,269.46 220.50,269.65 221.00,269.58 221.50,269.42 222.00,269.53 222.50,269.00 223.00,269.22 223.50,269.28 224.00,269.13 224.50,269.74 225.00,269.73 225.50,269.68 226.00,269.68 226.50,269.37 227.00,269.19 227.50,269.06 228.00,268.89 228.50,268.84 229.00,268.53 229.50,268.65 230.00,268.70 230.50,268.29 231.00,268.10 231.50,267.52 232.00,267.39 232.50,267.85 233.00,267.85 233.50,268.57 234.00,268.84 234.50,268.64 235.00,268.89 235.50,268.75 236.00,268.48 236.50,268.51 237.00,268.56 237.50,268.72 238.00,269.07 238.50,269.05 239.00,269.27 239.50,269.08 240.00,268.97 240.50,269.22 241.00,269.12 241.50,269.28 242.00,269.39 242.50,269.26 243.00,269.18 243.50,269.19 244.00,269.32 244.50,269.40 245.00,269.80 245.50,269.78 246.00,268.96 246.50,268.74 247.00,268.53 247.50,268.32 248.00,268.61 248.50,268.40 249.00,268.25 249.50,268.38 250.00,268.61 250.50,268.99 251.00,269.22 251.50,269.44 252.00,269.34 252.50,269.60 253.00,269.48 253.50,269.33 254.00,269.65 254.50,269.47 255.00,268.87 255.50,269.08 256.00,269.03 256.50,268.89 257.00,269.22 257.50,268.86 258.00,268.32 258.50,268.25 259.00,268.13 259.50,267.88 260.00,267.80 260.50,267.48 261.00,267.58 261.50,267.74 262.00,267.87 262.50,267.87 263.00,267.42 263.50,267.22 264.00,267.34 264.50,267.02 265.00,267.34 265.50,266.83 266.00,266.58 266.50,267.17 267.00,267.06 267.50,267.53 268.00,267.96 268.50,268.29 269.00,268.54 269.50,269.01 270.00,268.77 270.50,268.82 271.00,268.79 271.50,268.44 272.00,268.51 272.50,268.08 273.00,268.20 273.50,268.37 274.00,268.20 274.50,267.98 275.00,267.34 275.50,266.75 276.00,266.63 276.50,266.71 277.00,267.07 277.50,267.45 278.00,267.83 278.50,267.94 279.00,268.11 279.50,268.62 280.00,268.96 280.50,269.32 281.00,269.85 281.50,269.56 282.00,269.32 282.50,269.01 283.00,268.81 283.50,268.78 284.00,268.85 284.50,269.12 285.00,268.80 285.50,268.66 286.00,268.51 286.50,268.21 287.00,268.04 287.50,267.93 288.00,267.81 288.50,268.00 289.00,268.42 289.50,268.49 290.00,268.71 290.50,268.59 291.00,268.54 291.50,268.76 292.00,269.02 292.50,269.41 293.00,269.36 293.50,269.55 294.00,269.38 294.50,269.28 295.00,269.38 295.50,269.18 296.00,269.67 296.50,269.81 297.00,270.09 297.50,270.11 298.00,269.49 298.50,269.49 299.00,269.34 299.50,269.72 300.00,269.77 300.50,269.92 301.00,270.23 301.50,269.95 302.00,270.29 302.50,270.03 303.00,269.78 303.50,269.90 304.00,269.90 304.50,269.77 305.00,269.53 305.50,269.42 306.00,268.67 306.50,268.56 307.00,268.16 307.50,267.65 308.00,267.81 308.50,267.80 309.00,268.33 309.50,268.67 310.00,268.79 310.50,268.68 311.00,268.24 311.50,268.10 312.00,267.57 312.50,268.00 313.00,268.04 313.50,267.95 314.00,268.39 314.50,268.37 315.00,268.81 315.50,269.04 316.00,269.29 316.50,269.21 317.00,268.88 317.50,269.02 318.00,268.97 318.50,268.71 319.00,269.05 319.50,268.70 320.00,268.67 320.50,268.67 321.00,268.24 321.50,268.29 322.00,268.25 322.50,268.09 323.00,268.06 323.50,268.32 324.00,267.94 324.50,268.01 325.00,268.03 325.50,267.52 326.00,267.56 326.50,267.26 327.00,267.07 327.50,266.96 328.00,266.49 328.50,266.63 329.00,266.26 329.50,265.99 330.00,265.78 330.50,265.27 331.00,265.10 331.50,265.05 332.00,265.29 332.50,265.05 333.00,264.91 333.50,265.00 334.00,264.76 334.50,264.99 335.00,265.27 335.50,265.08 336.00,265.10 336.50,265.00 337.00,265.02 337.50,265.13 338.00,264.91 338.50,265.00 339.00,264.48 339.50,264.48 340.00,264.72 340.50,264.59 341.00,264.72 341.50,264.22 342.00,264.31 342.50,264.44 343.00,264.62 343.50,265.26 344.00,265.23 344.50,265.39 345.00,265.55 345.50,265.42 346.00,266.16 346.50,266.45 347.00,266.75 347.50,267.41 348.00,266.70 348.50,267.00 349.00,267.30 349.50,267.18 350.00,267.98 350.50,267.74 351.00,267.80 351.50,268.18 352.00,267.76 352.50,267.91 353.00,267.92 353.50,267.80 354.00,268.11 354.50,268.46 355.00,268.57 355.50,268.36 356.00,268.49 356.50,268.23 357.00,267.85 357.50,267.68 358.00,267.90 358.50,268.13 359.00,268.85 359.50,269.04 360.00,268.82 360.50,268.92 361.00,268.57 361.50,268.94 362.00,269.04 362.50,268.90 363.00,268.53 363.50,268.30 364.00,268.59 364.50,268.86 365.00,269.52 365.50,269.61 366.00,269.29 366.50,269.03 367.00,268.88 367.50,269.01 368.00,269.15 368.50,269.63 369.00,269.44 369.50,269.58 370.00,269.27 370.50,269.18 371.00,269.27 371.50,269.15 372.00,269.43 372.50,269.55 373.00,269.64 373.50,269.58 374.00,269.37 374.50,269.15 375.00,269.03 375.50,269.04 376.00,269.26 376.50,269.35 377.00,269.39 377.50,269.62 378.00,269.95 378.50,269.58 379.00,269.96 379.50,270.24 380.00,269.84 380.50,270.23 381.00,269.76 381.50,269.46 382.00,269.52 382.50,269.48 383.00,269.57 383.50,269.38 384.00,269.37 384.50,269.20 385.00,269.27 385.50,269.38 386.00,269.28 386.50,269.38 387.00,269.58 387.50,269.22 388.00,269.45 388.50,269.35 389.00,269.08 389.50,269.25 390.00,269.07 390.50,269.07 391.00,269.33 391.50,269.34 392.00,269.90 392.50,269.90 393.00,269.88 393.50,269.27 394.00,268.02 394.50,266.39 395.00,264.66 395.50,262.98 396.00,261.04 396.50,258.87 397.00,256.58 397.50,254.26 398.00,252.00 398.50,249.87 399.00,247.80 399.50,245.71 400.00,243.55 400.50,241.22 401.00,238.65 401.50,235.81 402.00,232.72 402.50,229.38 403.00,225.77 403.50,221.89 404.00,217.71 404.50,213.23 405.00,208.22 405.50,202.34 406.00,195.87 406.50,189.10 407.00,182.28 407.50,175.70 408.00,168.85 408.50,161.89 409.00,155.41 409.50,149.75 410.00,143.85 410.50,139.84 411.00,140.30 411.50,144.76 412.00,150.81 412.50,157.56 413.00,166.21 413.50,175.27 414.00,184.15 414.50,193.64 415.00,203.00 415.50,211.45 416.00,218.21 416.50,223.99 417.00,229.28 417.50,234.03 418.00,238.16 418.50,241.62 419.00,244.46 419.50,247.13 420.00,249.61 420.50,251.85 421.00,253.79 421.50,255.34 422.00,256.46 422.50,257.12 423.00,257.60 423.50,258.00 424.00,258.34 424.50,258.62 425.00,258.87 425.50,259.10 426.00,259.32 426.50,259.54 427.00,259.79 427.50,260.08 428.00,260.42 428.50,260.83 429.00,261.30 429.50,261.81 430.00,262.35 430.50,262.91 431.00,263.46 431.50,264.00 432.00,264.50 432.50,264.96 433.00,265.35 433.50,265.66 434.00,265.92 434.50,266.16 435.00,266.41 435.50,266.72 436.00,267.11 436.50,267.65 437.00,269.00 437.50,269.90 438.00,269.90 438.50,269.90 439.00,269.90 439.50,269.90 440.00,269.90 440.50,269.90 441.00,269.90 441.50,269.90 442.00,269.90 442.50,269.90 443.00,269.90 443.50,269.90 444.00,269.90 444.50,269.90 445.00,269.90 445.50,269.90 446.00,269.90 446.50,269.90 447.00,269.90 447.50,269.90 448.00,269.90 448.50,269.90 449.00,269.89 449.50,269.89 450.00,269.89 450.50,269.89 451.00,269.89 451.50,269.89 452.00,269.89 452.50,269.89 453.00,269.89 453.50,269.89 454.00,269.89 454.50,269.89 455.00,269.89 455.50,269.88 456.00,269.88 456.50,269.88 457.00,269.88 457.50,269.88 458.00,269.88 458.50,269.88 459.00,269.87 459.50,269.87 460.00,269.87 460.50,269.87 461.00,269.87 461.50,269.87 462.00,269.86 462.50,269.86 463.00,269.86 463.50,269.86 464.00,269.86 464.50,269.85 465.00,269.85 465.50,269.85 466.00,269.85 466.50,269.84 467.00,269.84 467.50,269.84 468.00,269.84 468.50,269.83 469.00,269.83 469.50,269.83 470.00,269.82 470.50,269.82 471.00,269.82 471.50,269.81 472.00,269.81 472.50,269.81 473.00,269.80 473.50,269.80 474.00,269.70 474.50,269.54 475.00,269.63 475.50,268.97 476.00,268.47 476.50,268.26 477.00,267.58 477.50,267.10 478.00,265.87 478.50,264.80 479.00,262.91 479.50,261.54 480.00,260.29 480.50,259.03 481.00,257.53 481.50,255.19 482.00,252.67 482.50,249.85 483.00,247.72 483.50,246.36 484.00,245.22 484.50,244.36 485.00,243.37 485.50,242.64 486.00,242.62 486.50,242.57 487.00,243.22 487.50,244.05 488.00,245.13 488.50,246.62 489.00,247.85 489.50,249.26 490.00,250.93 490.50,253.26 491.00,255.91 491.50,258.33 492.00,260.64 492.50,262.01 493.00,263.27 493.50,264.97 494.00,265.87 494.50,267.20 495.00,268.21 495.50,268.51 496.00,269.40 496.50,269.50 497.00,269.64 497.50,269.44 498.00,269.02 498.50,269.08 499.00,269.09 499.50,269.42 500.00,269.66 500.50,269.63 501.00,269.35 501.50,269.41 502.00,269.43 502.50,269.35 503.00,269.56 503.50,269.84 504.00,269.95 504.50,270.34 505.00,270.60 505.50,270.31 506.00,270.04 506.50,269.95 507.00,269.80 507.50,269.70 508.00,269.79 508.50,269.67 509.00,269.86 509.50,269.77 510.00,270.21 510.50,270.05 511.00,269.82 511.50,270.15 512.00,269.57 512.50,269.66 513.00,269.74 513.50,269.05 514.00,269.09 514.50,268.84 515.00,268.48 515.50,268.72 516.00,268.55 516.50,268.66 517.00,268.76 517.50,268.81 518.00,268.69 518.50,268.61 519.00,268.18 519.50,267.99 520.00,268.25 520.50,268.20 521.00,268.13 521.50,268.04 522.00,267.95 522.50,267.92 523.00,268.36 523.50,268.15 524.00,267.77 524.50,267.62 525.00,267.25 525.50,267.56 526.00,267.79 526.50,267.94 527.00,268.26 527.50,268.61 528.00,269.02 528.50,269.25 529.00,269.26 529.50,269.49 530.00,269.37 530.50,269.35 531.00,269.47 531.50,268.80 532.00,268.68 532.50,268.28 533.00,267.82 533.50,268.11 534.00,267.74 534.50,267.70 535.00,267.90 535.50,267.81 536.00,267.44 536.50,267.21 537.00,267.17 537.50,266.77 538.00,266.52 538.50,266.69 539.00,266.62 539.50,266.89 540.00,267.53 540.50,267.45 541.00,267.47 541.50,267.35 542.00,267.25 542.50,267.41 543.00,267.47 543.50,267.34 544.00,267.67 544.50,267.91 545.00,268.18 545.50,268.11 546.00,268.17 546.50,268.20 547.00,268.02 547.50,268.67 548.00,268.44 548.50,268.72 549.00,269.02 549.50,268.87 550.00,269.43 550.50,269.33 551.00,269.36 551.50,269.26 552.00,269.13 552.50,269.33 553.00,269.49 553.50,269.52 554.00,269.69 554.50,269.74 555.00,269.71 555.50,269.89 556.00,269.39 556.50,268.95 557.00,268.71 557.50,268.82 558.00,269.18 558.50,269.16 559.00,268.88 559.50,268.63 560.00,268.15 560.50,268.33 561.00,268.22 561.50,268.18 562.00,268.37 562.50,267.78 563.00,268.01 563.50,267.77 564.00,267.38 564.50,267.33 565.00,267.16 565.50,267.41 566.00,267.29 566.50,267.66 567.00,267.73 567.50,267.54 568.00,268.01 568.50,268.05 569.00,268.21 569.50,268.62 570.00,268.61 570.50,269.06 571.00,269.31 571.50,269.10 572.00,268.93 572.50,268.55 573.00,268.26 573.50,268.42 574.00,268.79 574.50,269.02 575.00,268.94 575.50,268.81 576.00,268.47 576.50,267.92 577.00,268.07 577.50,267.77 578.00,267.70 578.50,267.60 579.00,267.29 579.50,267.34 580.00,267.29 580.50,267.13 581.00,267.14 581.50,266.89 582.00,266.86 582.50,267.10 583.00,267.10 583.50,266.85 584.00,267.23 584.50,267.34 585.00,267.66 585.50,268.53 586.00,268.09 586.50,267.87 587.00,267.59 587.50,267.34 588.00,267.44 588.50,267.51 589.00,267.68 589.50,267.38 590.00,267.56 590.50,267.87 591.00,267.72 591.50,268.11 592.00,268.16 592.50,267.81 593.00,267.89 593.50,267.85 594.00,267.95 594.50,268.37 595.00,268.67 595.50,268.88 596.00,269.08 596.50,269.10 597.00,269.08 597.50,269.03 598.00,268.95 598.50,269.29 599.00,269.02 599.50,269.16 600.00,269.00 600.50,268.67 601.00,269.17 601.50,269.10 602.00,269.66 602.50,269.62 603.00,269.45 603.50,269.41 604.00,269.18 604.50,269.31 605.00,269.31 605.50,269.46 606.00,269.66 606.50,269.76 607.00,269.85 607.50,269.80 608.00,269.49 608.50,269.22 609.00,269.03 609.50,269.10 610.00,268.90 610.50,269.28 611.00,269.39 611.50,269.23 612.00,269.48 612.50,269.48 613.00,269.63 613.50,269.84 614.00,270.26 614.50,270.56 615.00,270.28 615.50,270.40 616.00,269.97 616.50,269.32 617.00,269.46 617.50,269.46 618.00,269.50 618.50,269.60 619.00,269.87 619.50,269.68 620.00,269.61 620.50,269.89 621.00,269.59 621.50,269.22 622.00,268.88 622.50,268.31 623.00,268.07 623.50,268.17 624.00,268.31 624.50,268.19 625.00,267.74 625.50,267.52 626.00,267.17 626.50,266.73 627.00,266.47 627.50,266.01 628.00,265.66 628.50,265.55 629.00,265.07 629.50,264.87 630.00,263.98 630.50,263.33 631.00,263.31 631.50,262.71 632.00,262.47 632.50,262.26 633.00,262.00 633.50,261.77 634.00,261.60 634.50,261.64 635.00,260.98 635.50,260.72 636.00,260.57 636.50,260.09 637.00,260.21 637.50,260.20 638.00,260.09 638.50,260.15 639.00,260.40 639.50,260.32 640.00,260.66 640.50,260.76 641.00,260.50 641.50,260.56 642.00,260.63 642.50,260.82 643.00,261.51 643.50,262.08 644.00,262.20 644.50,262.32 645.00,262.16 645.50,261.91 646.00,262.74 646.50,263.45 647.00,263.84 647.50,264.80 648.00,265.49 648.50,265.94 649.00,266.75 649.50,267.11 650.00,266.89 650.50,266.93 651.00,267.02 651.50,267.31 652.00,267.70 652.50,268.29 653.00,268.98 653.50,269.26 654.00,269.61 654.50,269.53 655.00,269.05 655.50,269.38 656.00,269.40 656.50,269.72 657.00,269.92 657.50,269.28 658.00,269.42 658.50,268.86 659.00,268.93 659.50,269.16 660.00,268.99 660.50,269.54 661.00,269.74 661.50,269.48 662.00,269.63 662.50,269.16 663.00,269.14 663.50,269.45 664.00,269.07 664.50,269.32 665.00,268.97 665.50,269.03 666.00,269.37 666.50,269.57 667.00,269.76 667.50,269.90 668.00,269.75 668.50,269.91 669.00,269.91 669.50,269.52 670.00,269.28 670.50,268.66 671.00,268.41 671.50,268.38 672.00,268.44 672.50,268.61 673.00,268.56 673.50,268.55 674.00,268.19 674.50,267.85 675.00,267.30 675.50,267.00 676.00,266.95 676.50,267.43 677.00,267.56 677.50,267.65 678.00,267.62 678.50,266.85 679.00,267.11 679.50,267.09 680.00,266.88 680.50,266.75 681.00,266.69 681.50,266.44 682.00,266.82 682.50,267.18 683.00,267.29 683.50,267.49 684.00,267.64 684.50,267.82 685.00,268.00 685.50,268.07 686.00,267.62 686.50,267.25 687.00,266.89 687.50,266.92 688.00,266.99 688.50,267.72 689.00,267.92 689.50,268.13 690.00,268.47 690.50,268.05 691.00,268.50 691.50,268.76 692.00,269.10 692.50,269.31 693.00,269.22 693.50,269.14 694.00,269.24 694.50,269.20 695.00,269.35 695.50,269.62 696.00,269.37 696.50,269.51 697.00,269.65 697.50,269.49 698.00,269.80 698.50,270.10 699.00,270.07 699.50,270.02 700.00,269.46 700.50,269.44 701.00,269.15 701.50,269.31 702.00,269.61 702.50,269.81 703.00,269.60 703.50,269.61 704.00,269.63 704.50,269.64 705.00,269.65 705.50,269.67 706.00,269.68 706.50,269.69 707.00,269.71 707.50,269.72 708.00,269.73 708.50,269.74 709.00,269.76 709.50,269.77 710.00,269.78 710.50,269.79 711.00,269.80 711.50,269.81 712.00,269.82 712.50,269.83 713.00,269.84 713.50,269.85 714.00,269.86 714.50,269.86 715.00,269.87 715.50,269.88 716.00,269.88 716.50,269.89 717.00,269.89 717.50,269.89 718.00,269.90 718.50,269.90 719.00,269.90 719.50,269.90 720.00,269.86 720.50,269.96 721.00,269.45 721.50,269.44 722.00,269.02 722.50,268.89 723.00,268.51 723.50,267.89 724.00,267.22 724.50,266.69 725.00,266.20 725.50,265.71 726.00,265.59 726.50,264.95 727.00,264.62 727.50,264.13 728.00,263.43 728.50,262.92 729.00,262.30 729.50,261.40 730.00,261.06 730.50,260.18 731.00,259.96 731.50,259.76 732.00,259.50 732.50,259.37 733.00,258.64 733.50,258.39 734.00,257.32 734.50,257.05 735.00,256.98 735.50,257.02 736.00,257.19 736.50,257.14 737.00,257.76 737.50,258.22 738.00,258.99 738.50,260.10 739.00,260.81 739.50,261.84 740.00,263.26 740.50,264.45 741.00,265.86 741.50,266.83 742.00,267.18 742.50,267.62 743.00,267.64 743.50,267.67 744.00,268.03 744.50,268.14 745.00,268.42 745.50,268.85 746.00,269.19 746.50,269.20 747.00,269.15 747.50,269.28 748.00,269.16 748.50,269.32 749.00,269.15 749.50,269.09 750.00,269.11 750.50,269.31 751.00,269.43 751.50,269.64 752.00,269.58 752.50,269.13 753.00,269.13 753.50,268.76 754.00,268.90 754.50,268.93 755.00,268.68 755.50,268.41 756.00,267.98 756.50,267.55 757.00,267.64 757.50,267.78 758.00,267.58 758.50,267.65 759.00,267.37 759.50,266.88 760.00,267.03 760.50,266.95 761.00,266.92 761.50,266.68 762.00,266.11 762.50,265.77 763.00,265.24 763.50,265.39 764.00,265.67 764.50,265.86 765.00,266.07 765.50,265.54 766.00,265.56 766.50,265.32 767.00,265.52 767.50,266.37 768.00,266.21 768.50,266.57 769.00,266.50 769.50,265.88 770.00,265.74 770.50,265.59 771.00,265.46"/><polygon points="328.5,141.0 333.9,147.4 328.5,153.8 323.1,147.4" fill="#000"/><circle cx="342" cy="147" r="4.2" fill="#000"/><circle cx="394.15" cy="128.5" r="4.2" fill="#000"/><rect x="407" y="43" width="9" height="9" fill="#000"/><rect x="480" y="125" width="9" height="9" fill="#000"/><circle cx="596.8" cy="147.4" r="4.2" fill="#000"/><polygon points="637,143.15 642.2,149 637,154.85 631.8,149" fill="#000"/><rect x="728" y="141" width="9" height="9" fill="#000"/><polygon points="338.1,239.35 343.3,245.2 338.1,251.04999999999998 332.90000000000003,245.2" fill="#000"/><polygon points="339.6,322.54999999999995 344.8,328.4 339.6,334.25 334.40000000000003,328.4" fill="#000"/><polygon points="338.05,402.95 343.25,408.8 338.05,414.65000000000003 332.85,408.8" fill="#000"/><polygon points="340.7,484.04999999999995 345.9,489.9 340.7,495.75 335.5,489.9" fill="#000"/><rect x="701.6" y="11.9" width="13.0" height="12.700000000000001" fill="#000"/><circle cx="704.7" cy="53.6" r="4.7" fill="#000"/><polygon points="703.8,81.0 709.6999999999999,88.4 703.8,95.80000000000001 697.9,88.4" fill="#000"/><text transform="translate(96.30,519.80) scale(0.915,1)" font-size="25" text-anchor="end">0</text><text transform="translate(96.30,438.58) scale(0.915,1)" font-size="25" text-anchor="end">1000</text><text transform="translate(96.30,357.36) scale(0.915,1)" font-size="25" text-anchor="end">2000</text><text transform="translate(96.30,276.14) scale(0.915,1)" font-size="25" text-anchor="end">3000</text><text transform="translate(96.30,194.92) scale(0.915,1)" font-size="25" text-anchor="end">4000</text><text transform="translate(96.30,113.70) scale(0.915,1)" font-size="25" text-anchor="end">5000</text><text transform="translate(96.30,32.48) scale(0.915,1)" font-size="25" text-anchor="end">6000</text><text transform="translate(163.53,588.00) scale(0.915,1)" font-size="25" text-anchor="middle">20</text><text transform="translate(264.78,588.00) scale(0.915,1)" font-size="25" text-anchor="middle">30</text><text transform="translate(366.03,588.00) scale(0.915,1)" font-size="25" text-anchor="middle">40</text><text transform="translate(467.28,588.00) scale(0.915,1)" font-size="25" text-anchor="middle">50</text><text transform="translate(568.52,588.00) scale(0.915,1)" font-size="25" text-anchor="middle">60</text><text transform="translate(669.77,588.00) scale(0.915,1)" font-size="25" text-anchor="middle">70</text><text transform="translate(771.02,588.00) scale(0.915,1)" font-size="25" text-anchor="middle">80</text><text transform="translate(440.00,626.70) scale(0.93,1)" font-size="26">2θ (<tspan dy="-13.5" font-size="14">o</tspan><tspan dy="13.5" dx="0.75">)</tspan></text><text transform="translate(27.70,288.00) rotate(-90) scale(0.958,1)" font-size="26" text-anchor="middle">Intensity (a.u.)</text><text transform="translate(722.00,26.30) scale(0.925,1)" font-size="24">Metallic Nickel</text><text transform="translate(722.00,61.00) scale(0.925,1)" font-size="24">NiO</text><text transform="translate(723.30,95.80) scale(0.925,1)" font-size="24">NiAl<tspan dy="8.3">2</tspan><tspan dy="-8.3">O</tspan><tspan dy="8.3">4</tspan></text><text transform="translate(776.50,193.90) scale(0.92,1)" font-size="24">40% Ni/Al<tspan dy="8.4" font-size="14">2</tspan><tspan dy="-8.4">O</tspan><tspan dy="8.4" font-size="14">3</tspan><tspan dy="-8.4"> used 4 times</tspan></text><text transform="translate(776.00,276.70) scale(0.925,1)" font-size="24">40% Ni/Al<tspan dy="8.4" font-size="14">2</tspan><tspan dy="-8.4">O</tspan><tspan dy="8.4" font-size="14">3</tspan></text><text transform="translate(776.70,360.50) scale(0.925,1)" font-size="24">30% Ni/Al<tspan dy="8.4" font-size="14">2</tspan><tspan dy="-8.4">O</tspan><tspan dy="8.4" font-size="14">3</tspan></text><text transform="translate(777.30,439.40) scale(0.925,1)" font-size="24">20% Ni/Al<tspan dy="8.4" font-size="14">2</tspan><tspan dy="-8.4">O</tspan><tspan dy="8.4" font-size="14">3</tspan></text><text transform="translate(777.20,522.20) scale(0.925,1)" font-size="24">10% Ni/Al<tspan dy="8.4" font-size="14">2</tspan><tspan dy="-8.4">O</tspan><tspan dy="8.4" font-size="14">3</tspan></text></svg></body></html>
